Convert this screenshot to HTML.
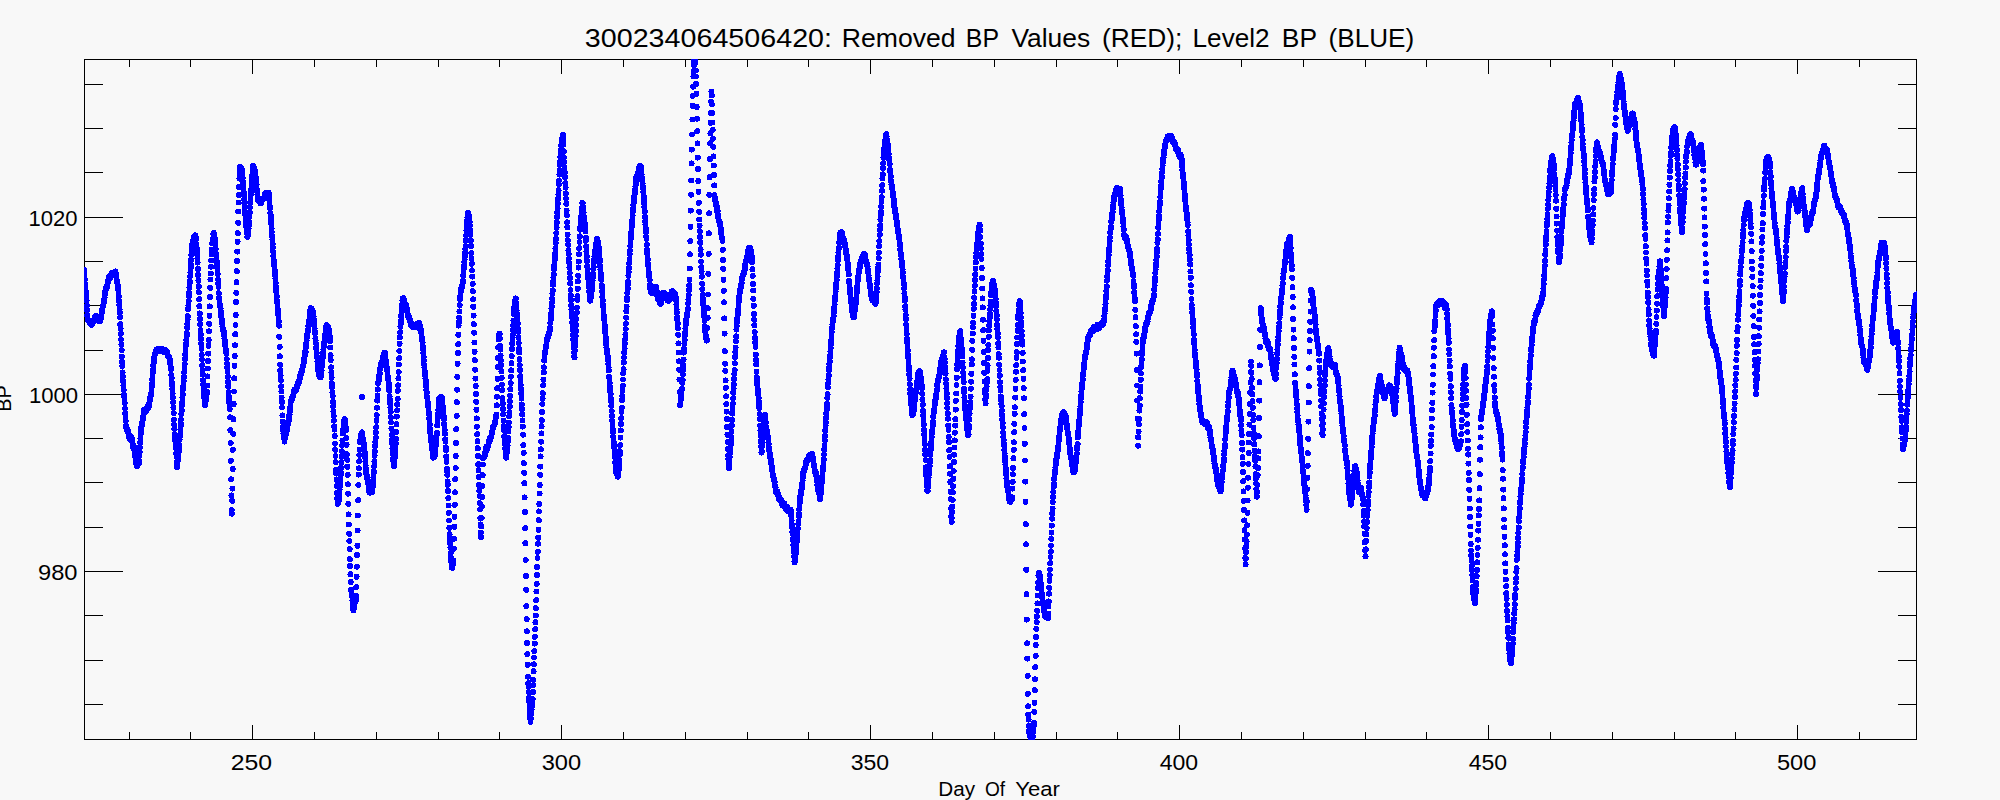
<!DOCTYPE html>
<html><head><meta charset="utf-8"><style>
html,body{margin:0;padding:0;background:#f8f8f8;}
svg{display:block;}
text{font-family:"Liberation Sans", sans-serif;fill:#000;}
</style></head><body>
<svg width="2000" height="800" viewBox="0 0 2000 800">
<rect width="2000" height="800" fill="#f8f8f8"/>
<g stroke="#000" stroke-width="1" shape-rendering="crispEdges">
<rect x="84.5" y="59.5" width="1832" height="680" fill="none" stroke="#000" stroke-width="1"/>
<line x1="129.5" y1="739" x2="129.5" y2="732"/>
<line x1="129.5" y1="60" x2="129.5" y2="67"/>
<line x1="190.5" y1="739" x2="190.5" y2="732"/>
<line x1="190.5" y1="60" x2="190.5" y2="67"/>
<line x1="252.5" y1="739" x2="252.5" y2="725"/>
<line x1="252.5" y1="60" x2="252.5" y2="74"/>
<line x1="314.5" y1="739" x2="314.5" y2="732"/>
<line x1="314.5" y1="60" x2="314.5" y2="67"/>
<line x1="376.5" y1="739" x2="376.5" y2="732"/>
<line x1="376.5" y1="60" x2="376.5" y2="67"/>
<line x1="438.5" y1="739" x2="438.5" y2="732"/>
<line x1="438.5" y1="60" x2="438.5" y2="67"/>
<line x1="499.5" y1="739" x2="499.5" y2="732"/>
<line x1="499.5" y1="60" x2="499.5" y2="67"/>
<line x1="561.5" y1="739" x2="561.5" y2="725"/>
<line x1="561.5" y1="60" x2="561.5" y2="74"/>
<line x1="623.5" y1="739" x2="623.5" y2="732"/>
<line x1="623.5" y1="60" x2="623.5" y2="67"/>
<line x1="685.5" y1="739" x2="685.5" y2="732"/>
<line x1="685.5" y1="60" x2="685.5" y2="67"/>
<line x1="747.5" y1="739" x2="747.5" y2="732"/>
<line x1="747.5" y1="60" x2="747.5" y2="67"/>
<line x1="808.5" y1="739" x2="808.5" y2="732"/>
<line x1="808.5" y1="60" x2="808.5" y2="67"/>
<line x1="870.5" y1="739" x2="870.5" y2="725"/>
<line x1="870.5" y1="60" x2="870.5" y2="74"/>
<line x1="932.5" y1="739" x2="932.5" y2="732"/>
<line x1="932.5" y1="60" x2="932.5" y2="67"/>
<line x1="994.5" y1="739" x2="994.5" y2="732"/>
<line x1="994.5" y1="60" x2="994.5" y2="67"/>
<line x1="1056.5" y1="739" x2="1056.5" y2="732"/>
<line x1="1056.5" y1="60" x2="1056.5" y2="67"/>
<line x1="1117.5" y1="739" x2="1117.5" y2="732"/>
<line x1="1117.5" y1="60" x2="1117.5" y2="67"/>
<line x1="1179.5" y1="739" x2="1179.5" y2="725"/>
<line x1="1179.5" y1="60" x2="1179.5" y2="74"/>
<line x1="1241.5" y1="739" x2="1241.5" y2="732"/>
<line x1="1241.5" y1="60" x2="1241.5" y2="67"/>
<line x1="1303.5" y1="739" x2="1303.5" y2="732"/>
<line x1="1303.5" y1="60" x2="1303.5" y2="67"/>
<line x1="1365.5" y1="739" x2="1365.5" y2="732"/>
<line x1="1365.5" y1="60" x2="1365.5" y2="67"/>
<line x1="1426.5" y1="739" x2="1426.5" y2="732"/>
<line x1="1426.5" y1="60" x2="1426.5" y2="67"/>
<line x1="1488.5" y1="739" x2="1488.5" y2="725"/>
<line x1="1488.5" y1="60" x2="1488.5" y2="74"/>
<line x1="1550.5" y1="739" x2="1550.5" y2="732"/>
<line x1="1550.5" y1="60" x2="1550.5" y2="67"/>
<line x1="1612.5" y1="739" x2="1612.5" y2="732"/>
<line x1="1612.5" y1="60" x2="1612.5" y2="67"/>
<line x1="1674.5" y1="739" x2="1674.5" y2="732"/>
<line x1="1674.5" y1="60" x2="1674.5" y2="67"/>
<line x1="1735.5" y1="739" x2="1735.5" y2="732"/>
<line x1="1735.5" y1="60" x2="1735.5" y2="67"/>
<line x1="1797.5" y1="739" x2="1797.5" y2="725"/>
<line x1="1797.5" y1="60" x2="1797.5" y2="74"/>
<line x1="1859.5" y1="739" x2="1859.5" y2="732"/>
<line x1="1859.5" y1="60" x2="1859.5" y2="67"/>
<line x1="85" y1="84.5" x2="103" y2="84.5"/>
<line x1="1916" y1="84.5" x2="1898" y2="84.5"/>
<line x1="85" y1="128.5" x2="103" y2="128.5"/>
<line x1="1916" y1="128.5" x2="1898" y2="128.5"/>
<line x1="85" y1="172.5" x2="103" y2="172.5"/>
<line x1="1916" y1="172.5" x2="1898" y2="172.5"/>
<line x1="85" y1="217.5" x2="123" y2="217.5"/>
<line x1="1916" y1="217.5" x2="1878" y2="217.5"/>
<line x1="85" y1="261.5" x2="103" y2="261.5"/>
<line x1="1916" y1="261.5" x2="1898" y2="261.5"/>
<line x1="85" y1="305.5" x2="103" y2="305.5"/>
<line x1="1916" y1="305.5" x2="1898" y2="305.5"/>
<line x1="85" y1="350.5" x2="103" y2="350.5"/>
<line x1="1916" y1="350.5" x2="1898" y2="350.5"/>
<line x1="85" y1="394.5" x2="123" y2="394.5"/>
<line x1="1916" y1="394.5" x2="1878" y2="394.5"/>
<line x1="85" y1="438.5" x2="103" y2="438.5"/>
<line x1="1916" y1="438.5" x2="1898" y2="438.5"/>
<line x1="85" y1="482.5" x2="103" y2="482.5"/>
<line x1="1916" y1="482.5" x2="1898" y2="482.5"/>
<line x1="85" y1="527.5" x2="103" y2="527.5"/>
<line x1="1916" y1="527.5" x2="1898" y2="527.5"/>
<line x1="85" y1="571.5" x2="123" y2="571.5"/>
<line x1="1916" y1="571.5" x2="1878" y2="571.5"/>
<line x1="85" y1="615.5" x2="103" y2="615.5"/>
<line x1="1916" y1="615.5" x2="1898" y2="615.5"/>
<line x1="85" y1="660.5" x2="103" y2="660.5"/>
<line x1="1916" y1="660.5" x2="1898" y2="660.5"/>
<line x1="85" y1="704.5" x2="103" y2="704.5"/>
<line x1="1916" y1="704.5" x2="1898" y2="704.5"/>
</g>
<defs><clipPath id="c"><rect x="84" y="59" width="1833" height="681"/></clipPath></defs>
<path clip-path="url(#c)" fill="none" stroke="#0000ff" stroke-width="6.0" stroke-linecap="round" shape-rendering="crispEdges" d="M84.0 270.2h0M84.3 274.2h0M84.5 277.4h0M84.8 279.7h0M85.0 284.0h0M85.3 286.4h0M85.5 288.4h0M85.8 291.5h0M86.1 294.0h0M86.3 296.8h0M86.6 300.3h0M86.8 305.6h0M87.1 310.0h0M87.3 315.5h0M87.6 318.8h0M87.9 320.2h0M88.1 320.4h0M88.4 320.5h0M88.6 320.2h0M88.9 320.4h0M89.2 320.5h0M89.4 320.5h0M89.7 321.9h0M89.9 322.5h0M90.2 320.9h0M90.4 322.0h0M90.7 323.6h0M91.0 323.8h0M91.2 324.3h0M91.5 324.2h0M91.7 324.9h0M92.0 322.4h0M92.2 322.2h0M92.5 323.2h0M92.8 322.2h0M93.0 322.3h0M93.3 321.1h0M93.5 320.3h0M93.8 321.2h0M94.0 320.8h0M94.3 319.5h0M94.6 319.0h0M94.8 318.3h0M95.1 316.8h0M95.3 316.8h0M95.6 316.5h0M95.9 316.3h0M96.1 316.1h0M96.4 317.1h0M96.6 317.9h0M96.9 318.3h0M97.1 318.4h0M97.4 320.1h0M97.7 319.8h0M97.9 320.7h0M98.2 319.4h0M98.4 320.4h0M98.7 319.6h0M98.9 318.8h0M99.2 319.5h0M99.5 320.3h0M99.7 321.2h0M100.0 321.3h0M100.2 320.7h0M100.5 320.7h0M100.7 319.2h0M101.0 318.2h0M101.3 316.9h0M101.5 313.6h0M101.8 312.8h0M102.0 311.6h0M102.3 308.9h0M102.6 307.1h0M102.8 306.8h0M103.1 305.4h0M103.3 304.9h0M103.6 303.1h0M103.8 301.2h0M104.1 300.5h0M104.4 298.5h0M104.6 297.2h0M104.9 294.7h0M105.1 291.7h0M105.4 290.5h0M105.6 290.5h0M105.9 289.5h0M106.2 288.0h0M106.4 287.9h0M106.7 287.6h0M106.9 286.9h0M107.2 286.2h0M107.4 284.6h0M107.7 282.9h0M108.0 281.1h0M108.2 280.7h0M108.5 277.7h0M108.7 278.3h0M109.0 277.9h0M109.3 276.9h0M109.5 278.0h0M109.8 277.5h0M110.0 278.4h0M110.3 277.5h0M110.5 277.5h0M110.8 277.0h0M111.1 275.5h0M111.3 274.1h0M111.6 273.1h0M111.8 274.6h0M112.1 273.3h0M112.3 273.1h0M112.6 274.0h0M112.9 274.3h0M113.1 275.4h0M113.4 275.2h0M113.6 275.2h0M113.9 274.6h0M114.1 274.9h0M114.4 273.4h0M114.7 273.8h0M114.9 273.9h0M115.2 271.9h0M115.4 271.4h0M115.7 273.7h0M116.0 275.4h0M116.2 275.2h0M116.5 277.2h0M116.7 280.2h0M117.0 281.0h0M117.2 282.5h0M117.5 283.8h0M117.8 285.4h0M118.0 286.1h0M118.3 289.8h0M118.5 293.1h0M118.8 296.6h0M119.0 301.0h0M119.3 304.9h0M119.6 309.6h0M119.8 312.9h0M120.1 317.2h0M120.3 324.3h0M120.6 328.7h0M120.8 333.9h0M121.1 339.5h0M121.4 344.3h0M121.6 350.1h0M121.9 356.5h0M122.1 361.9h0M122.4 366.1h0M122.6 372.4h0M122.9 376.5h0M123.2 381.0h0M123.4 385.5h0M123.7 389.9h0M123.9 395.0h0M124.2 396.8h0M124.5 401.0h0M124.7 403.2h0M125.0 408.4h0M125.2 413.1h0M125.5 416.8h0M125.7 421.1h0M126.0 426.0h0M126.3 427.5h0M126.5 428.5h0M126.8 429.9h0M127.0 429.3h0M127.3 429.2h0M127.5 429.8h0M127.8 430.5h0M128.1 431.4h0M128.3 432.5h0M128.6 434.0h0M128.8 434.5h0M129.1 437.3h0M129.3 437.2h0M129.6 437.3h0M129.9 438.6h0M130.1 438.9h0M130.4 438.2h0M130.6 437.7h0M130.9 437.0h0M131.2 439.4h0M131.4 438.6h0M131.7 438.1h0M131.9 439.3h0M132.2 441.4h0M132.4 442.2h0M132.7 444.8h0M133.0 445.7h0M133.2 447.6h0M133.5 448.2h0M133.7 446.7h0M134.0 449.1h0M134.2 449.1h0M134.5 452.0h0M134.8 453.0h0M135.0 455.0h0M135.3 456.2h0M135.5 460.0h0M135.8 462.1h0M136.0 461.8h0M136.3 464.1h0M136.6 464.5h0M136.8 465.9h0M137.1 465.4h0M137.3 466.2h0M137.6 463.7h0M137.9 463.6h0M138.1 463.9h0M138.4 463.1h0M138.6 463.3h0M138.9 462.9h0M139.1 460.9h0M139.4 456.0h0M139.7 452.0h0M139.9 447.5h0M140.2 442.7h0M140.4 438.3h0M140.7 433.7h0M140.9 430.2h0M141.2 427.7h0M141.5 426.8h0M141.7 425.6h0M142.0 424.6h0M142.2 423.0h0M142.5 422.6h0M142.7 419.8h0M143.0 418.0h0M143.3 416.5h0M143.5 414.4h0M143.8 412.0h0M144.0 409.6h0M144.3 410.9h0M144.6 411.0h0M144.8 410.4h0M145.1 412.0h0M145.3 411.3h0M145.6 410.9h0M145.8 411.3h0M146.1 410.5h0M146.4 409.9h0M146.6 407.9h0M146.9 409.3h0M147.1 407.3h0M147.4 406.6h0M147.6 407.9h0M147.9 407.6h0M148.2 407.9h0M148.4 407.0h0M148.7 406.4h0M148.9 405.6h0M149.2 403.7h0M149.4 403.0h0M149.7 400.7h0M150.0 398.9h0M150.2 398.0h0M150.5 397.2h0M150.7 396.0h0M151.0 395.0h0M151.3 393.2h0M151.5 389.0h0M151.8 386.5h0M152.0 383.9h0M152.3 379.5h0M152.5 376.6h0M152.8 372.6h0M153.1 369.5h0M153.3 365.6h0M153.6 363.3h0M153.8 361.7h0M154.1 358.1h0M154.3 359.6h0M154.6 355.6h0M154.9 353.8h0M155.1 353.6h0M155.4 352.9h0M155.6 351.3h0M155.9 352.1h0M156.1 351.4h0M156.4 349.9h0M156.7 349.6h0M156.9 349.8h0M157.2 349.1h0M157.4 350.2h0M157.7 350.5h0M158.0 350.4h0M158.2 350.3h0M158.5 351.1h0M158.7 350.4h0M159.0 351.1h0M159.2 350.0h0M159.5 349.8h0M159.8 349.0h0M160.0 349.0h0M160.3 348.5h0M160.5 349.8h0M160.8 351.0h0M161.0 350.4h0M161.3 350.6h0M161.6 351.1h0M161.8 350.8h0M162.1 350.3h0M162.3 350.4h0M162.6 349.7h0M162.8 350.4h0M163.1 349.4h0M163.4 349.7h0M163.6 350.6h0M163.9 350.5h0M164.1 352.2h0M164.4 351.6h0M164.6 352.0h0M164.9 352.4h0M165.2 352.4h0M165.4 351.3h0M165.7 351.6h0M165.9 350.2h0M166.2 352.1h0M166.5 351.5h0M166.7 351.8h0M167.0 352.5h0M167.2 353.9h0M167.5 355.0h0M167.7 355.3h0M168.0 356.0h0M168.3 356.7h0M168.5 356.5h0M168.8 357.3h0M169.0 357.3h0M169.3 357.6h0M169.5 359.1h0M169.8 359.5h0M170.1 362.5h0M170.3 364.0h0M170.6 366.4h0M170.8 368.9h0M171.1 369.3h0M171.3 374.9h0M171.6 377.9h0M171.9 382.5h0M172.1 384.9h0M172.4 389.0h0M172.6 393.2h0M172.9 397.5h0M173.2 402.2h0M173.4 407.3h0M173.7 413.2h0M173.9 419.7h0M174.2 424.8h0M174.4 429.0h0M174.7 434.2h0M175.0 436.9h0M175.2 440.0h0M175.5 442.2h0M175.7 445.9h0M176.0 448.0h0M176.2 453.2h0M176.5 457.1h0M176.8 462.5h0M177.0 466.9h0M177.3 464.3h0M177.5 462.9h0M177.8 460.8h0M178.0 459.1h0M178.3 456.2h0M178.6 452.4h0M178.8 450.8h0M179.1 448.1h0M179.3 445.1h0M179.6 439.2h0M179.9 436.5h0M180.1 434.4h0M180.4 429.5h0M180.6 426.0h0M180.9 423.3h0M181.1 419.5h0M181.4 414.1h0M181.7 410.4h0M181.9 405.7h0M182.2 402.3h0M182.4 397.4h0M182.7 394.3h0M182.9 389.7h0M183.2 386.9h0M183.5 383.6h0M183.7 380.9h0M184.0 376.9h0M184.2 372.1h0M184.5 368.7h0M184.7 364.2h0M185.0 359.2h0M185.3 354.7h0M185.5 350.6h0M185.8 345.8h0M186.0 343.4h0M186.3 340.0h0M186.6 336.0h0M186.8 333.1h0M187.1 327.8h0M187.3 324.0h0M187.6 319.4h0M187.8 316.1h0M188.1 309.0h0M188.4 305.4h0M188.6 301.0h0M188.9 296.2h0M189.1 292.6h0M189.4 287.5h0M189.6 283.1h0M189.9 281.2h0M190.2 276.2h0M190.4 272.6h0M190.7 267.7h0M190.9 264.4h0M191.2 260.0h0M191.4 255.1h0M191.7 252.2h0M192.0 248.0h0M192.2 244.6h0M192.5 241.6h0M192.7 240.9h0M193.0 241.2h0M193.3 240.6h0M193.5 239.6h0M193.8 239.5h0M194.0 237.4h0M194.3 236.5h0M194.5 236.2h0M194.8 236.6h0M195.1 235.4h0M195.3 237.1h0M195.6 236.7h0M195.8 237.3h0M196.1 239.0h0M196.3 244.1h0M196.6 247.9h0M196.9 251.1h0M197.1 254.7h0M197.4 258.3h0M197.6 262.6h0M197.9 269.1h0M198.1 274.9h0M198.4 280.4h0M198.7 286.3h0M198.9 292.2h0M199.2 299.1h0M199.4 306.2h0M199.7 313.4h0M199.9 318.9h0M200.2 324.1h0M200.5 330.0h0M200.7 334.4h0M201.0 338.7h0M201.2 343.8h0M201.5 348.9h0M201.8 355.0h0M202.0 359.4h0M202.3 365.2h0M202.5 370.6h0M202.8 374.6h0M203.0 380.3h0M203.3 384.4h0M203.6 387.9h0M203.8 392.4h0M204.1 395.7h0M204.3 398.1h0M204.6 400.8h0M204.8 404.0h0M205.1 405.4h0M205.4 402.8h0M205.6 401.8h0M205.9 399.2h0M206.1 398.5h0M206.4 396.7h0M206.6 394.1h0M206.9 391.6h0M207.2 385.5h0M207.4 376.4h0M207.7 368.5h0M207.9 361.0h0M208.2 353.6h0M208.5 345.9h0M208.7 340.0h0M209.0 331.3h0M209.2 323.9h0M209.5 315.8h0M209.7 306.4h0M210.0 297.1h0M210.3 287.8h0M210.5 279.5h0M210.8 273.5h0M211.0 266.7h0M211.3 260.5h0M211.5 254.4h0M211.8 249.5h0M212.1 243.4h0M212.3 243.3h0M212.6 241.5h0M212.8 238.7h0M213.1 238.6h0M213.3 234.0h0M213.6 232.9h0M213.9 233.4h0M214.1 235.6h0M214.4 235.4h0M214.6 237.6h0M214.9 239.2h0M215.2 241.9h0M215.4 244.8h0M215.7 248.9h0M215.9 253.8h0M216.2 255.1h0M216.4 258.3h0M216.7 261.4h0M217.0 264.6h0M217.2 267.5h0M217.5 271.4h0M217.7 274.1h0M218.0 279.5h0M218.2 283.6h0M218.5 286.8h0M218.8 293.1h0M219.0 297.7h0M219.3 298.5h0M219.5 301.3h0M219.8 304.2h0M220.0 304.5h0M220.3 306.2h0M220.6 308.8h0M220.8 311.7h0M221.1 314.1h0M221.3 317.0h0M221.6 319.1h0M221.9 320.5h0M222.1 323.7h0M222.4 326.4h0M222.6 327.6h0M222.9 328.9h0M223.1 329.4h0M223.4 331.1h0M223.7 331.2h0M223.9 333.7h0M224.2 335.2h0M224.4 338.3h0M224.7 340.5h0M224.9 342.2h0M225.2 345.5h0M225.5 348.6h0M225.7 349.2h0M226.0 351.4h0M226.2 352.8h0M226.5 353.8h0M226.7 359.2h0M227.0 363.5h0M227.3 367.6h0M227.5 372.0h0M227.8 376.8h0M228.0 382.1h0M228.3 386.6h0M228.6 392.3h0M228.8 396.4h0M229.1 399.9h0M229.3 402.4h0M229.6 406.0h0M229.8 409.0h0M230.1 417.4h0M230.4 430.2h0M230.6 443.0h0M230.9 460.8h0M231.1 479.4h0M231.4 495.4h0M231.6 510.0h0M231.9 513.7h0M232.2 500.8h0M232.4 488.6h0M232.7 469.0h0M232.9 449.8h0M233.2 433.7h0M233.4 419.2h0M233.7 404.0h0M234.0 391.5h0M234.2 378.4h0M234.5 365.9h0M234.7 356.0h0M235.0 345.3h0M235.3 334.3h0M235.5 325.0h0M235.8 315.0h0M236.0 302.2h0M236.3 292.9h0M236.5 282.2h0M236.8 271.1h0M237.1 260.9h0M237.3 251.6h0M237.6 241.8h0M237.8 233.2h0M238.1 222.8h0M238.3 211.5h0M238.6 202.5h0M238.9 195.0h0M239.1 187.1h0M239.4 178.6h0M239.6 173.6h0M239.9 169.9h0M240.1 167.0h0M240.4 167.4h0M240.7 167.5h0M240.9 168.9h0M241.2 171.3h0M241.4 169.7h0M241.7 170.9h0M241.9 170.0h0M242.2 173.1h0M242.5 176.2h0M242.7 178.2h0M243.0 181.6h0M243.2 184.7h0M243.5 187.9h0M243.8 192.4h0M244.0 195.6h0M244.3 199.4h0M244.5 203.5h0M244.8 207.5h0M245.0 212.0h0M245.3 215.0h0M245.6 220.1h0M245.8 222.9h0M246.1 224.5h0M246.3 226.3h0M246.6 229.6h0M246.8 229.8h0M247.1 233.3h0M247.4 236.8h0M247.6 236.4h0M247.9 234.9h0M248.1 232.9h0M248.4 231.1h0M248.6 228.3h0M248.9 225.8h0M249.2 221.7h0M249.4 216.5h0M249.7 212.6h0M249.9 207.2h0M250.2 202.7h0M250.5 198.6h0M250.7 194.8h0M251.0 191.3h0M251.2 189.3h0M251.5 185.8h0M251.7 182.1h0M252.0 178.4h0M252.3 175.3h0M252.5 172.1h0M252.8 169.0h0M253.0 166.0h0M253.3 167.0h0M253.5 168.5h0M253.8 167.1h0M254.1 168.8h0M254.3 167.9h0M254.6 169.9h0M254.8 171.0h0M255.1 171.8h0M255.3 174.5h0M255.6 177.1h0M255.9 177.8h0M256.1 180.7h0M256.4 182.8h0M256.6 184.7h0M256.9 189.4h0M257.2 192.0h0M257.4 194.3h0M257.7 198.3h0M257.9 200.4h0M258.2 200.3h0M258.4 200.7h0M258.7 199.3h0M259.0 200.0h0M259.2 199.0h0M259.5 200.3h0M259.7 199.9h0M260.0 202.2h0M260.2 202.2h0M260.5 203.5h0M260.8 202.5h0M261.0 202.8h0M261.3 202.9h0M261.5 199.8h0M261.8 199.9h0M262.0 200.3h0M262.3 199.4h0M262.6 199.4h0M262.8 198.6h0M263.1 199.3h0M263.3 198.7h0M263.6 198.5h0M263.9 198.3h0M264.1 198.7h0M264.4 198.0h0M264.6 197.0h0M264.9 194.2h0M265.1 194.2h0M265.4 194.3h0M265.7 194.2h0M265.9 193.5h0M266.2 193.3h0M266.4 192.6h0M266.7 195.3h0M266.9 193.5h0M267.2 195.4h0M267.5 195.5h0M267.7 194.5h0M268.0 193.7h0M268.2 193.8h0M268.5 192.8h0M268.7 193.7h0M269.0 193.9h0M269.3 197.8h0M269.5 201.9h0M269.8 206.1h0M270.0 208.6h0M270.3 213.0h0M270.6 215.1h0M270.8 217.9h0M271.1 221.0h0M271.3 224.0h0M271.6 228.5h0M271.8 232.0h0M272.1 236.0h0M272.4 239.4h0M272.6 243.9h0M272.9 247.8h0M273.1 251.6h0M273.4 256.1h0M273.6 259.3h0M273.9 261.5h0M274.2 265.2h0M274.4 266.4h0M274.7 269.9h0M274.9 272.4h0M275.2 275.5h0M275.4 278.4h0M275.7 283.2h0M276.0 286.7h0M276.2 291.0h0M276.5 294.1h0M276.7 296.7h0M277.0 300.5h0M277.2 302.9h0M277.5 306.6h0M277.8 309.7h0M278.0 311.9h0M278.3 314.4h0M278.5 317.8h0M278.8 321.7h0M279.1 325.7h0M279.3 336.8h0M279.6 346.9h0M279.8 356.4h0M280.1 364.8h0M280.3 370.6h0M280.6 375.2h0M280.9 380.3h0M281.1 386.3h0M281.4 391.3h0M281.6 397.7h0M281.9 401.9h0M282.1 407.5h0M282.4 415.4h0M282.7 421.7h0M282.9 426.8h0M283.2 430.1h0M283.4 433.4h0M283.7 434.6h0M283.9 437.4h0M284.2 438.3h0M284.5 441.6h0M284.7 438.9h0M285.0 438.2h0M285.2 437.7h0M285.5 435.2h0M285.8 434.6h0M286.0 432.4h0M286.3 431.7h0M286.5 430.4h0M286.8 430.8h0M287.0 428.7h0M287.3 428.2h0M287.6 425.1h0M287.8 424.4h0M288.1 423.3h0M288.3 422.3h0M288.6 421.0h0M288.8 418.2h0M289.1 416.5h0M289.4 414.6h0M289.6 414.6h0M289.9 411.6h0M290.1 408.9h0M290.4 406.7h0M290.6 402.6h0M290.9 400.7h0M291.2 400.8h0M291.4 399.7h0M291.7 399.1h0M291.9 398.1h0M292.2 398.8h0M292.5 399.1h0M292.7 396.7h0M293.0 396.6h0M293.2 395.1h0M293.5 394.2h0M293.7 392.5h0M294.0 391.1h0M294.3 389.9h0M294.5 389.9h0M294.8 389.4h0M295.0 389.7h0M295.3 390.0h0M295.5 390.5h0M295.8 389.7h0M296.1 389.5h0M296.3 389.7h0M296.6 388.1h0M296.8 387.0h0M297.1 386.6h0M297.3 385.0h0M297.6 384.0h0M297.9 383.4h0M298.1 382.2h0M298.4 383.0h0M298.6 383.4h0M298.9 382.6h0M299.2 380.8h0M299.4 381.0h0M299.7 379.2h0M299.9 378.3h0M300.2 376.9h0M300.4 374.6h0M300.7 374.8h0M301.0 373.0h0M301.2 372.7h0M301.5 372.1h0M301.7 372.1h0M302.0 371.5h0M302.2 369.3h0M302.5 369.2h0M302.8 366.6h0M303.0 366.1h0M303.3 365.2h0M303.5 363.7h0M303.8 362.5h0M304.0 360.2h0M304.3 358.6h0M304.6 356.7h0M304.8 355.8h0M305.1 354.4h0M305.3 351.4h0M305.6 351.9h0M305.9 347.3h0M306.1 344.6h0M306.4 342.7h0M306.6 340.3h0M306.9 337.7h0M307.1 334.9h0M307.4 334.3h0M307.7 331.8h0M307.9 331.3h0M308.2 329.6h0M308.4 326.2h0M308.7 324.4h0M308.9 322.1h0M309.2 320.2h0M309.5 317.3h0M309.7 314.5h0M310.0 311.0h0M310.2 310.5h0M310.5 310.3h0M310.7 308.2h0M311.0 308.7h0M311.3 308.9h0M311.5 308.6h0M311.8 309.7h0M312.0 311.7h0M312.3 311.9h0M312.6 311.9h0M312.8 311.0h0M313.1 313.4h0M313.3 314.4h0M313.6 316.3h0M313.8 319.1h0M314.1 322.0h0M314.4 326.7h0M314.6 328.7h0M314.9 331.7h0M315.1 333.5h0M315.4 338.6h0M315.6 340.5h0M315.9 343.3h0M316.2 347.1h0M316.4 349.0h0M316.7 353.1h0M316.9 356.6h0M317.2 357.6h0M317.4 361.3h0M317.7 363.2h0M318.0 366.9h0M318.2 370.0h0M318.5 370.9h0M318.7 374.8h0M319.0 375.2h0M319.2 374.9h0M319.5 375.6h0M319.8 376.4h0M320.0 375.7h0M320.3 377.4h0M320.5 377.2h0M320.8 376.9h0M321.1 374.5h0M321.3 372.2h0M321.6 370.8h0M321.8 366.9h0M322.1 364.6h0M322.3 362.9h0M322.6 358.5h0M322.9 356.3h0M323.1 352.8h0M323.4 349.7h0M323.6 347.7h0M323.9 345.9h0M324.1 343.8h0M324.4 341.9h0M324.7 340.0h0M324.9 337.5h0M325.2 336.0h0M325.4 333.5h0M325.7 330.9h0M325.9 326.6h0M326.2 327.1h0M326.5 326.1h0M326.7 325.1h0M327.0 326.0h0M327.2 326.7h0M327.5 326.7h0M327.8 326.8h0M328.0 326.8h0M328.3 328.6h0M328.5 329.6h0M328.8 329.7h0M329.0 331.8h0M329.3 334.0h0M329.6 335.2h0M329.8 337.9h0M330.1 341.4h0M330.3 347.5h0M330.6 355.2h0M330.8 360.0h0M331.1 367.4h0M331.4 372.6h0M331.6 377.7h0M331.9 383.2h0M332.1 387.0h0M332.4 392.5h0M332.6 396.1h0M332.9 401.9h0M333.2 406.3h0M333.4 411.4h0M333.7 416.2h0M333.9 420.6h0M334.2 426.4h0M334.5 429.6h0M334.7 436.0h0M335.0 443.6h0M335.2 449.9h0M335.5 456.0h0M335.7 462.2h0M336.0 470.1h0M336.3 473.6h0M336.5 479.8h0M336.8 485.7h0M337.0 493.0h0M337.3 498.6h0M337.5 503.8h0M337.8 503.3h0M338.1 501.9h0M338.3 500.6h0M338.6 499.6h0M338.8 500.7h0M339.1 498.1h0M339.3 494.0h0M339.6 489.8h0M339.9 486.6h0M340.1 483.2h0M340.4 479.9h0M340.6 475.1h0M340.9 472.7h0M341.2 467.7h0M341.4 462.5h0M341.7 456.7h0M341.9 451.3h0M342.2 445.3h0M342.4 440.5h0M342.7 433.5h0M343.0 429.6h0M343.2 429.3h0M343.5 426.1h0M343.7 425.0h0M344.0 423.7h0M344.2 420.6h0M344.5 419.1h0M344.8 419.3h0M345.0 420.5h0M345.3 422.4h0M345.5 424.1h0M345.8 427.2h0M346.0 430.3h0M346.3 438.0h0M346.6 444.7h0M346.8 454.2h0M347.1 459.8h0M347.3 466.7h0M347.6 474.9h0M347.9 484.3h0M348.1 493.7h0M348.4 503.9h0M348.6 514.4h0M348.9 524.5h0M349.1 533.8h0M349.4 541.0h0M349.7 549.2h0M349.9 559.2h0M350.2 566.0h0M350.4 574.3h0M350.7 582.0h0M350.9 589.7h0M351.2 590.7h0M351.5 592.6h0M351.7 594.2h0M352.0 596.0h0M352.2 596.8h0M352.5 600.5h0M352.7 601.4h0M353.0 605.8h0M353.3 608.4h0M353.5 610.5h0M353.8 608.4h0M354.0 608.5h0M354.3 605.9h0M354.5 604.2h0M354.8 602.9h0M355.1 601.7h0M355.3 601.4h0M355.6 601.1h0M355.8 598.9h0M356.1 596.0h0M356.4 587.1h0M356.6 576.8h0M356.9 566.7h0M357.1 555.0h0M357.4 545.7h0M357.6 530.5h0M357.9 515.5h0M358.2 500.3h0M358.4 485.0h0M358.7 474.6h0M358.9 468.4h0M359.2 461.2h0M359.4 455.0h0M359.7 449.6h0M360.0 442.2h0M360.2 440.3h0M360.5 438.2h0M360.7 437.7h0M361.0 436.5h0M361.2 434.3h0M361.5 433.3h0M361.8 433.6h0M362.0 432.4h0M362.3 434.2h0M362.5 435.8h0M362.8 438.2h0M363.1 440.3h0M363.3 442.9h0M363.6 443.0h0M363.8 445.5h0M364.1 445.3h0M364.3 448.3h0M364.6 451.9h0M364.9 454.4h0M365.1 457.4h0M365.4 461.5h0M365.6 465.7h0M365.9 468.2h0M366.1 471.8h0M366.4 473.8h0M366.7 475.2h0M366.9 477.2h0M367.2 477.6h0M367.4 478.8h0M367.7 480.3h0M367.9 482.2h0M368.2 483.5h0M368.5 486.6h0M368.7 487.4h0M369.0 491.0h0M369.2 490.5h0M369.5 491.4h0M369.8 491.9h0M370.0 492.8h0M370.3 491.7h0M370.5 490.5h0M370.8 491.2h0M371.0 490.1h0M371.3 489.9h0M371.6 491.0h0M371.8 491.5h0M372.1 491.9h0M372.3 488.7h0M372.6 486.9h0M372.8 484.3h0M373.1 481.1h0M373.4 477.6h0M373.6 473.8h0M373.9 471.3h0M374.1 466.4h0M374.4 461.3h0M374.6 455.7h0M374.9 451.2h0M375.2 446.0h0M375.4 442.1h0M375.7 437.8h0M375.9 432.5h0M376.2 427.3h0M376.5 420.8h0M376.7 415.1h0M377.0 407.8h0M377.2 400.6h0M377.5 395.8h0M377.7 389.6h0M378.0 383.6h0M378.3 383.1h0M378.5 381.5h0M378.8 380.2h0M379.0 378.2h0M379.3 376.7h0M379.5 374.5h0M379.8 373.1h0M380.1 369.3h0M380.3 368.1h0M380.6 366.9h0M380.8 364.4h0M381.1 363.6h0M381.3 365.3h0M381.6 362.5h0M381.9 363.4h0M382.1 362.0h0M382.4 361.2h0M382.6 359.5h0M382.9 358.9h0M383.2 358.6h0M383.4 355.8h0M383.7 355.7h0M383.9 354.5h0M384.2 354.7h0M384.4 352.7h0M384.7 353.4h0M385.0 353.0h0M385.2 354.6h0M385.5 356.4h0M385.7 360.6h0M386.0 361.0h0M386.2 363.3h0M386.5 365.8h0M386.8 367.8h0M387.0 368.5h0M387.3 370.8h0M387.5 372.8h0M387.8 376.1h0M388.0 379.4h0M388.3 379.3h0M388.6 383.3h0M388.8 383.1h0M389.1 387.4h0M389.3 390.8h0M389.6 396.6h0M389.9 399.5h0M390.1 403.0h0M390.4 407.4h0M390.6 412.0h0M390.9 417.3h0M391.1 422.5h0M391.4 428.7h0M391.7 434.9h0M391.9 439.8h0M392.2 443.8h0M392.4 448.4h0M392.7 453.6h0M392.9 459.2h0M393.2 460.6h0M393.5 462.1h0M393.7 464.6h0M394.0 466.0h0M394.2 463.6h0M394.5 461.6h0M394.7 458.1h0M395.0 454.8h0M395.3 451.7h0M395.5 447.4h0M395.8 443.3h0M396.0 438.8h0M396.3 432.0h0M396.5 424.3h0M396.8 416.6h0M397.1 410.4h0M397.3 404.5h0M397.6 398.9h0M397.8 390.8h0M398.1 385.3h0M398.4 378.3h0M398.6 372.0h0M398.9 364.5h0M399.1 358.2h0M399.4 351.0h0M399.6 343.8h0M399.9 337.5h0M400.2 332.1h0M400.4 326.4h0M400.7 323.9h0M400.9 320.9h0M401.2 316.5h0M401.4 314.5h0M401.7 310.3h0M402.0 306.7h0M402.2 304.4h0M402.5 300.5h0M402.7 298.7h0M403.0 299.9h0M403.2 298.2h0M403.5 298.3h0M403.8 299.8h0M404.0 300.2h0M404.3 301.4h0M404.5 302.7h0M404.8 303.9h0M405.1 304.4h0M405.3 304.8h0M405.6 304.0h0M405.8 304.6h0M406.1 306.1h0M406.3 305.9h0M406.6 307.6h0M406.9 309.4h0M407.1 310.0h0M407.4 312.0h0M407.6 314.6h0M407.9 315.1h0M408.1 316.8h0M408.4 317.4h0M408.7 317.5h0M408.9 317.4h0M409.2 317.2h0M409.4 317.4h0M409.7 318.9h0M409.9 319.8h0M410.2 320.6h0M410.5 322.5h0M410.7 322.9h0M411.0 325.0h0M411.2 325.2h0M411.5 325.7h0M411.8 325.9h0M412.0 326.0h0M412.3 326.9h0M412.5 324.0h0M412.8 324.9h0M413.0 325.7h0M413.3 325.7h0M413.6 325.7h0M413.8 327.5h0M414.1 326.3h0M414.3 326.4h0M414.6 327.5h0M414.8 325.9h0M415.1 324.9h0M415.4 326.2h0M415.6 325.6h0M415.9 325.3h0M416.1 324.4h0M416.4 324.9h0M416.6 324.6h0M416.9 326.6h0M417.2 326.4h0M417.4 326.6h0M417.7 324.9h0M417.9 326.2h0M418.2 326.0h0M418.5 325.0h0M418.7 324.0h0M419.0 323.0h0M419.2 323.3h0M419.5 324.8h0M419.7 325.8h0M420.0 327.1h0M420.3 328.1h0M420.5 330.5h0M420.8 329.8h0M421.0 331.3h0M421.3 333.0h0M421.5 335.7h0M421.8 337.7h0M422.1 339.4h0M422.3 341.1h0M422.6 342.2h0M422.8 346.9h0M423.1 349.2h0M423.3 352.9h0M423.6 357.0h0M423.9 360.6h0M424.1 364.6h0M424.4 367.7h0M424.6 370.3h0M424.9 371.9h0M425.2 375.8h0M425.4 378.3h0M425.7 380.8h0M425.9 383.1h0M426.2 386.5h0M426.4 390.0h0M426.7 392.3h0M427.0 396.5h0M427.2 397.1h0M427.5 400.0h0M427.7 402.4h0M428.0 403.5h0M428.2 406.3h0M428.5 409.8h0M428.8 412.1h0M429.0 414.1h0M429.3 418.7h0M429.5 421.6h0M429.8 424.9h0M430.0 429.1h0M430.3 432.4h0M430.6 436.1h0M430.8 437.7h0M431.1 441.6h0M431.3 442.1h0M431.6 444.5h0M431.8 444.7h0M432.1 447.4h0M432.4 450.0h0M432.6 453.1h0M432.9 454.4h0M433.1 457.6h0M433.4 457.2h0M433.7 456.6h0M433.9 457.3h0M434.2 456.1h0M434.4 456.0h0M434.7 456.0h0M434.9 454.5h0M435.2 451.0h0M435.5 448.0h0M435.7 445.7h0M436.0 442.9h0M436.2 439.6h0M436.5 436.9h0M436.7 434.8h0M437.0 432.5h0M437.3 425.3h0M437.5 422.9h0M437.8 417.9h0M438.0 414.1h0M438.3 410.0h0M438.5 405.6h0M438.8 401.4h0M439.1 398.7h0M439.3 398.5h0M439.6 400.3h0M439.8 399.3h0M440.1 398.7h0M440.4 398.1h0M440.6 396.9h0M440.9 397.8h0M441.1 398.4h0M441.4 398.4h0M441.6 397.1h0M441.9 399.6h0M442.2 400.5h0M442.4 403.0h0M442.7 406.5h0M442.9 409.7h0M443.2 413.1h0M443.4 414.9h0M443.7 416.8h0M444.0 419.6h0M444.2 424.0h0M444.5 425.8h0M444.7 430.1h0M445.0 433.8h0M445.2 439.5h0M445.5 441.2h0M445.8 447.4h0M446.0 450.5h0M446.3 456.4h0M446.5 461.9h0M446.8 468.7h0M447.1 471.0h0M447.3 474.9h0M447.6 481.4h0M447.8 484.9h0M448.1 490.9h0M448.3 498.1h0M448.6 505.5h0M448.9 512.8h0M449.1 520.5h0M449.4 527.9h0M449.6 534.3h0M449.9 538.5h0M450.1 543.1h0M450.4 547.5h0M450.7 553.0h0M450.9 557.3h0M451.2 560.5h0M451.4 562.7h0M451.7 565.8h0M451.9 567.5h0M452.2 567.8h0M452.5 565.7h0M452.7 564.7h0M453.0 563.7h0M453.2 561.5h0M453.5 560.8h0M453.8 548.8h0M454.0 538.8h0M454.3 526.7h0M454.5 516.9h0M454.8 504.8h0M455.0 492.4h0M455.3 479.2h0M455.6 468.0h0M455.8 456.0h0M456.1 443.1h0M456.3 429.2h0M456.6 415.9h0M456.8 402.1h0M457.1 389.7h0M457.4 376.9h0M457.6 363.8h0M457.9 352.9h0M458.1 344.2h0M458.4 334.8h0M458.6 325.6h0M458.9 322.1h0M459.2 317.9h0M459.4 311.4h0M459.7 305.2h0M459.9 298.9h0M460.2 296.2h0M460.5 293.0h0M460.7 291.3h0M461.0 290.6h0M461.2 288.8h0M461.5 288.4h0M461.7 286.3h0M462.0 286.9h0M462.3 285.9h0M462.5 284.0h0M462.8 282.3h0M463.0 281.1h0M463.3 275.6h0M463.5 272.0h0M463.8 268.3h0M464.1 265.3h0M464.3 261.9h0M464.6 259.8h0M464.8 256.7h0M465.1 253.1h0M465.3 248.9h0M465.6 246.0h0M465.9 240.5h0M466.1 235.4h0M466.4 230.3h0M466.6 226.1h0M466.9 223.6h0M467.2 220.6h0M467.4 217.4h0M467.7 215.1h0M467.9 212.9h0M468.2 213.2h0M468.4 216.2h0M468.7 215.9h0M469.0 216.1h0M469.2 217.4h0M469.5 217.8h0M469.7 222.0h0M470.0 225.4h0M470.2 230.6h0M470.5 235.0h0M470.8 240.4h0M471.0 246.2h0M471.3 253.2h0M471.5 258.9h0M471.8 263.8h0M472.0 270.4h0M472.3 276.6h0M472.6 283.9h0M472.8 291.1h0M473.1 299.4h0M473.3 306.7h0M473.6 315.6h0M473.8 324.3h0M474.1 332.6h0M474.4 342.5h0M474.6 351.8h0M474.9 360.2h0M475.1 369.7h0M475.4 378.6h0M475.7 386.0h0M475.9 394.0h0M476.2 401.8h0M476.4 409.7h0M476.7 418.4h0M476.9 426.6h0M477.2 434.2h0M477.5 441.3h0M477.7 448.3h0M478.0 456.1h0M478.2 464.1h0M478.5 470.2h0M478.7 477.1h0M479.0 484.9h0M479.3 490.9h0M479.5 496.1h0M479.8 503.3h0M480.0 509.4h0M480.3 518.1h0M480.5 524.4h0M480.8 532.6h0M481.1 536.9h0M481.3 526.3h0M481.6 518.0h0M481.8 506.8h0M482.1 497.1h0M482.4 485.9h0M482.6 475.1h0M482.9 464.5h0M483.1 458.4h0M483.4 457.0h0M483.6 457.6h0M483.9 457.1h0M484.2 457.2h0M484.4 456.9h0M484.7 454.8h0M484.9 455.5h0M485.2 454.4h0M485.4 452.0h0M485.7 451.4h0M486.0 450.3h0M486.2 448.0h0M486.5 446.8h0M486.7 447.0h0M487.0 448.7h0M487.2 447.1h0M487.5 446.1h0M487.8 446.5h0M488.0 445.6h0M488.3 445.1h0M488.5 444.4h0M488.8 441.6h0M489.1 442.1h0M489.3 441.6h0M489.6 439.8h0M489.8 439.1h0M490.1 439.6h0M490.3 437.8h0M490.6 437.4h0M490.9 436.9h0M491.1 436.9h0M491.4 436.2h0M491.6 434.7h0M491.9 433.6h0M492.1 432.2h0M492.4 430.5h0M492.7 428.4h0M492.9 427.7h0M493.2 427.9h0M493.4 426.1h0M493.7 426.2h0M493.9 425.7h0M494.2 425.2h0M494.5 423.9h0M494.7 422.6h0M495.0 423.6h0M495.2 421.1h0M495.5 418.6h0M495.8 417.6h0M496.0 417.0h0M496.3 415.6h0M496.5 414.8h0M496.8 405.4h0M497.0 396.8h0M497.3 388.2h0M497.6 378.7h0M497.8 367.1h0M498.1 358.0h0M498.3 347.3h0M498.6 339.4h0M498.8 336.5h0M499.1 335.4h0M499.4 333.8h0M499.6 334.1h0M499.9 338.8h0M500.1 345.5h0M500.4 349.6h0M500.6 355.6h0M500.9 360.8h0M501.2 364.9h0M501.4 371.3h0M501.7 377.9h0M501.9 384.7h0M502.2 390.1h0M502.5 398.2h0M502.7 403.7h0M503.0 409.1h0M503.2 414.1h0M503.5 420.7h0M503.7 426.3h0M504.0 430.4h0M504.3 436.2h0M504.5 438.2h0M504.8 441.9h0M505.0 444.6h0M505.3 448.6h0M505.5 452.7h0M505.8 455.4h0M506.1 457.6h0M506.3 456.3h0M506.6 453.8h0M506.8 452.1h0M507.1 450.2h0M507.3 447.7h0M507.6 445.6h0M507.9 441.2h0M508.1 437.6h0M508.4 431.4h0M508.6 427.0h0M508.9 422.5h0M509.1 416.2h0M509.4 412.3h0M509.7 406.5h0M509.9 401.2h0M510.2 395.8h0M510.4 389.3h0M510.7 383.1h0M511.0 376.6h0M511.2 370.4h0M511.5 363.2h0M511.7 356.1h0M512.0 348.9h0M512.2 343.6h0M512.5 339.3h0M512.8 334.8h0M513.0 330.3h0M513.3 325.7h0M513.5 320.5h0M513.8 314.2h0M514.0 309.8h0M514.3 307.7h0M514.6 306.9h0M514.8 303.3h0M515.1 301.9h0M515.3 300.6h0M515.6 298.4h0M515.8 298.6h0M516.1 302.5h0M516.4 305.8h0M516.6 310.3h0M516.9 314.1h0M517.1 316.8h0M517.4 319.7h0M517.7 323.4h0M517.9 328.8h0M518.2 331.9h0M518.4 337.4h0M518.7 343.0h0M518.9 348.9h0M519.2 352.5h0M519.5 359.3h0M519.7 365.1h0M520.0 370.0h0M520.2 376.2h0M520.5 380.6h0M520.7 384.9h0M521.0 388.7h0M521.3 393.5h0M521.5 398.6h0M521.8 404.6h0M522.0 409.1h0M522.3 414.3h0M522.5 420.4h0M522.8 426.6h0M523.1 434.6h0M523.3 445.1h0M523.6 452.9h0M523.8 463.2h0M524.1 472.8h0M524.4 483.2h0M524.6 497.4h0M524.9 512.1h0M525.1 528.2h0M525.4 543.2h0M525.6 560.0h0M525.9 576.0h0M526.2 589.8h0M526.4 606.1h0M526.7 619.2h0M526.9 631.4h0M527.2 643.0h0M527.4 654.1h0M527.7 664.7h0M528.0 676.7h0M528.2 683.3h0M528.5 686.8h0M528.7 692.1h0M529.0 697.9h0M529.2 701.9h0M529.5 705.6h0M529.8 710.6h0M530.0 715.2h0M530.3 718.5h0M530.5 722.1h0M530.8 718.7h0M531.1 714.4h0M531.3 711.6h0M531.6 709.3h0M531.8 706.2h0M532.1 704.9h0M532.3 702.3h0M532.6 699.1h0M532.9 692.0h0M533.1 685.2h0M533.4 679.9h0M533.6 671.3h0M533.9 664.4h0M534.1 657.5h0M534.4 651.1h0M534.7 643.6h0M534.9 636.8h0M535.2 629.2h0M535.4 622.3h0M535.7 615.5h0M535.9 608.2h0M536.2 600.3h0M536.5 591.5h0M536.7 583.9h0M537.0 575.2h0M537.2 567.0h0M537.5 558.0h0M537.8 551.7h0M538.0 543.8h0M538.3 537.7h0M538.5 529.8h0M538.8 520.2h0M539.0 511.4h0M539.3 504.0h0M539.6 493.5h0M539.8 485.0h0M540.1 474.8h0M540.3 466.6h0M540.6 456.4h0M540.8 449.4h0M541.1 441.7h0M541.4 433.4h0M541.6 426.3h0M541.9 420.2h0M542.1 412.1h0M542.4 404.0h0M542.6 398.5h0M542.9 393.2h0M543.2 385.3h0M543.4 379.7h0M543.7 372.5h0M543.9 367.4h0M544.2 360.6h0M544.5 356.1h0M544.7 353.8h0M545.0 352.4h0M545.2 351.7h0M545.5 350.0h0M545.7 348.1h0M546.0 346.3h0M546.3 344.9h0M546.5 342.1h0M546.8 340.9h0M547.0 339.2h0M547.3 338.2h0M547.5 336.9h0M547.8 336.9h0M548.1 336.6h0M548.3 337.1h0M548.6 335.4h0M548.8 334.9h0M549.1 334.0h0M549.3 332.8h0M549.6 331.0h0M549.9 329.6h0M550.1 327.9h0M550.4 322.8h0M550.6 320.0h0M550.9 317.1h0M551.1 313.4h0M551.4 308.3h0M551.7 306.4h0M551.9 302.7h0M552.2 298.8h0M552.4 293.3h0M552.7 290.4h0M553.0 284.8h0M553.2 281.8h0M553.5 277.5h0M553.7 274.5h0M554.0 269.1h0M554.2 265.1h0M554.5 263.3h0M554.8 259.9h0M555.0 255.7h0M555.3 253.0h0M555.5 248.5h0M555.8 243.0h0M556.0 238.9h0M556.3 233.1h0M556.6 227.7h0M556.8 222.6h0M557.1 217.0h0M557.3 212.6h0M557.6 208.5h0M557.8 203.5h0M558.1 199.0h0M558.4 194.7h0M558.6 190.2h0M558.9 184.3h0M559.1 180.5h0M559.4 174.6h0M559.7 170.3h0M559.9 164.6h0M560.2 161.6h0M560.4 157.2h0M560.7 152.5h0M560.9 149.7h0M561.2 145.4h0M561.5 143.0h0M561.7 140.9h0M562.0 139.2h0M562.2 138.7h0M562.5 137.3h0M562.7 136.7h0M563.0 135.2h0M563.3 140.2h0M563.5 144.4h0M563.8 151.1h0M564.0 157.4h0M564.3 162.2h0M564.5 167.2h0M564.8 172.6h0M565.1 177.0h0M565.3 183.1h0M565.6 187.5h0M565.8 193.4h0M566.1 198.5h0M566.4 203.8h0M566.6 210.5h0M566.9 215.4h0M567.1 222.3h0M567.4 227.2h0M567.6 234.8h0M567.9 240.3h0M568.2 244.8h0M568.4 250.3h0M568.7 254.2h0M568.9 258.7h0M569.2 262.7h0M569.4 267.3h0M569.7 273.0h0M570.0 277.9h0M570.2 283.6h0M570.5 290.1h0M570.7 295.3h0M571.0 300.0h0M571.2 305.4h0M571.5 309.5h0M571.8 313.8h0M572.0 317.3h0M572.3 322.6h0M572.5 327.1h0M572.8 329.6h0M573.1 335.1h0M573.3 339.2h0M573.6 342.5h0M573.8 347.6h0M574.1 352.7h0M574.3 356.4h0M574.6 357.4h0M574.9 350.8h0M575.1 345.8h0M575.4 341.2h0M575.6 336.1h0M575.9 331.0h0M576.1 325.0h0M576.4 318.9h0M576.7 312.8h0M576.9 307.6h0M577.2 299.8h0M577.4 296.3h0M577.7 288.7h0M577.9 281.5h0M578.2 275.8h0M578.5 267.6h0M578.7 261.6h0M579.0 254.3h0M579.2 248.3h0M579.5 242.1h0M579.8 236.4h0M580.0 229.6h0M580.3 227.5h0M580.5 225.3h0M580.8 221.9h0M581.0 220.3h0M581.3 216.8h0M581.6 212.6h0M581.8 210.8h0M582.1 207.6h0M582.3 202.9h0M582.6 203.0h0M582.8 206.0h0M583.1 208.5h0M583.4 210.3h0M583.6 212.8h0M583.9 216.2h0M584.1 218.3h0M584.4 220.6h0M584.6 222.3h0M584.9 224.3h0M585.2 226.9h0M585.4 231.4h0M585.7 237.8h0M585.9 240.8h0M586.2 246.4h0M586.4 251.3h0M586.7 256.5h0M587.0 260.9h0M587.2 266.5h0M587.5 270.7h0M587.7 274.0h0M588.0 277.3h0M588.3 278.7h0M588.5 281.6h0M588.8 283.4h0M589.0 287.3h0M589.3 291.6h0M589.5 294.3h0M589.8 297.6h0M590.1 300.7h0M590.3 299.5h0M590.6 298.2h0M590.8 296.5h0M591.1 296.1h0M591.3 292.5h0M591.6 291.0h0M591.9 289.2h0M592.1 287.8h0M592.4 283.3h0M592.6 280.8h0M592.9 276.9h0M593.1 273.5h0M593.4 269.1h0M593.7 267.0h0M593.9 262.5h0M594.2 259.5h0M594.4 256.6h0M594.7 253.8h0M595.0 250.9h0M595.2 250.1h0M595.5 247.8h0M595.7 245.9h0M596.0 244.3h0M596.2 243.4h0M596.5 241.7h0M596.8 241.0h0M597.0 238.7h0M597.3 239.2h0M597.5 240.0h0M597.8 241.6h0M598.0 242.4h0M598.3 244.4h0M598.6 246.2h0M598.8 248.3h0M599.1 250.9h0M599.3 254.6h0M599.6 259.0h0M599.8 261.9h0M600.1 265.9h0M600.4 269.6h0M600.6 272.3h0M600.9 274.2h0M601.1 277.1h0M601.4 279.9h0M601.7 285.3h0M601.9 286.9h0M602.2 291.6h0M602.4 296.8h0M602.7 300.3h0M602.9 304.4h0M603.2 306.9h0M603.5 311.0h0M603.7 315.4h0M604.0 316.4h0M604.2 319.5h0M604.5 322.1h0M604.7 325.4h0M605.0 329.1h0M605.3 332.6h0M605.5 334.4h0M605.8 337.2h0M606.0 341.2h0M606.3 344.2h0M606.5 347.5h0M606.8 349.4h0M607.1 350.7h0M607.3 353.4h0M607.6 355.7h0M607.8 357.4h0M608.1 359.9h0M608.4 364.1h0M608.6 367.4h0M608.9 370.5h0M609.1 376.5h0M609.4 378.7h0M609.6 382.9h0M609.9 386.2h0M610.2 389.2h0M610.4 392.1h0M610.7 394.2h0M610.9 398.4h0M611.2 401.8h0M611.4 406.0h0M611.7 411.1h0M612.0 415.8h0M612.2 420.7h0M612.5 425.6h0M612.7 429.2h0M613.0 432.1h0M613.2 436.9h0M613.5 440.4h0M613.8 442.9h0M614.0 445.1h0M614.3 447.7h0M614.5 451.7h0M614.8 455.2h0M615.1 457.5h0M615.3 462.2h0M615.6 465.4h0M615.8 468.8h0M616.1 472.0h0M616.3 472.5h0M616.6 472.9h0M616.9 473.9h0M617.1 473.2h0M617.4 474.8h0M617.6 475.9h0M617.9 476.6h0M618.1 476.4h0M618.4 473.3h0M618.7 469.6h0M618.9 466.6h0M619.2 463.6h0M619.4 460.0h0M619.7 454.8h0M619.9 451.2h0M620.2 445.1h0M620.5 437.6h0M620.7 430.4h0M621.0 424.0h0M621.2 418.1h0M621.5 411.7h0M621.8 407.7h0M622.0 400.3h0M622.3 396.0h0M622.5 390.8h0M622.8 385.7h0M623.0 379.5h0M623.3 373.2h0M623.6 369.2h0M623.8 362.6h0M624.1 357.5h0M624.3 352.6h0M624.6 348.5h0M624.8 343.6h0M625.1 339.3h0M625.4 334.4h0M625.6 329.0h0M625.9 323.8h0M626.1 317.6h0M626.4 311.2h0M626.6 306.5h0M626.9 300.3h0M627.2 297.7h0M627.4 292.8h0M627.7 288.6h0M627.9 283.9h0M628.2 281.7h0M628.4 275.7h0M628.7 272.0h0M629.0 267.9h0M629.2 263.3h0M629.5 259.1h0M629.7 254.2h0M630.0 250.4h0M630.3 246.1h0M630.5 242.7h0M630.8 239.0h0M631.0 235.7h0M631.3 232.6h0M631.5 229.2h0M631.8 226.6h0M632.1 223.5h0M632.3 220.6h0M632.6 215.3h0M632.8 211.5h0M633.1 208.7h0M633.3 204.9h0M633.6 203.0h0M633.9 200.1h0M634.1 197.7h0M634.4 195.3h0M634.6 194.1h0M634.9 191.6h0M635.1 189.3h0M635.4 186.7h0M635.7 184.3h0M635.9 181.1h0M636.2 178.0h0M636.4 177.4h0M636.7 176.5h0M637.0 175.9h0M637.2 175.1h0M637.5 174.3h0M637.7 173.1h0M638.0 172.9h0M638.2 173.3h0M638.5 171.5h0M638.8 171.4h0M639.0 170.1h0M639.3 167.1h0M639.5 166.6h0M639.8 165.9h0M640.0 167.0h0M640.3 166.5h0M640.6 166.1h0M640.8 167.2h0M641.1 167.8h0M641.3 171.6h0M641.6 174.8h0M641.8 177.5h0M642.1 180.1h0M642.4 181.6h0M642.6 183.3h0M642.9 186.5h0M643.1 188.8h0M643.4 191.8h0M643.7 196.6h0M643.9 199.4h0M644.2 203.0h0M644.4 207.0h0M644.7 211.7h0M644.9 217.1h0M645.2 221.5h0M645.5 224.5h0M645.7 228.5h0M646.0 232.3h0M646.2 236.7h0M646.5 239.1h0M646.7 244.8h0M647.0 249.7h0M647.3 253.8h0M647.5 257.2h0M647.8 259.9h0M648.0 263.6h0M648.3 266.1h0M648.5 269.9h0M648.8 272.5h0M649.1 275.2h0M649.3 277.1h0M649.6 279.9h0M649.8 284.8h0M650.1 286.6h0M650.4 288.9h0M650.6 289.5h0M650.9 289.6h0M651.1 292.0h0M651.4 293.0h0M651.6 292.5h0M651.9 291.9h0M652.2 292.7h0M652.4 291.1h0M652.7 290.4h0M652.9 287.9h0M653.2 289.4h0M653.4 287.3h0M653.7 288.4h0M654.0 289.3h0M654.2 288.0h0M654.5 288.1h0M654.7 288.7h0M655.0 289.6h0M655.2 289.0h0M655.5 287.0h0M655.8 287.6h0M656.0 287.2h0M656.3 288.5h0M656.5 290.2h0M656.8 291.4h0M657.1 294.2h0M657.3 296.1h0M657.6 298.6h0M657.8 298.8h0M658.1 297.5h0M658.3 298.5h0M658.6 299.6h0M658.9 299.7h0M659.1 299.1h0M659.4 300.9h0M659.6 301.8h0M659.9 303.3h0M660.1 303.6h0M660.4 303.7h0M660.7 303.4h0M660.9 301.9h0M661.2 299.6h0M661.4 298.2h0M661.7 296.7h0M661.9 295.5h0M662.2 294.3h0M662.5 293.7h0M662.7 293.0h0M663.0 294.0h0M663.2 294.0h0M663.5 294.2h0M663.7 293.5h0M664.0 293.5h0M664.3 293.2h0M664.5 293.4h0M664.8 293.8h0M665.0 294.5h0M665.3 294.2h0M665.6 294.0h0M665.8 295.4h0M666.1 296.6h0M666.3 297.3h0M666.6 297.8h0M666.8 299.2h0M667.1 299.5h0M667.4 300.0h0M667.6 300.3h0M667.9 300.6h0M668.1 300.8h0M668.4 299.8h0M668.6 298.6h0M668.9 297.7h0M669.2 297.7h0M669.4 297.9h0M669.7 299.1h0M669.9 297.1h0M670.2 298.6h0M670.4 296.7h0M670.7 296.9h0M671.0 296.5h0M671.2 293.8h0M671.5 291.6h0M671.7 292.6h0M672.0 291.7h0M672.3 291.2h0M672.5 292.0h0M672.8 291.3h0M673.0 293.1h0M673.3 293.9h0M673.5 293.6h0M673.8 293.3h0M674.1 293.8h0M674.3 293.9h0M674.6 293.0h0M674.8 294.5h0M675.1 294.6h0M675.3 295.0h0M675.6 296.7h0M675.9 297.7h0M676.1 300.5h0M676.4 304.4h0M676.6 309.7h0M676.9 312.8h0M677.1 317.3h0M677.4 320.0h0M677.7 323.5h0M677.9 328.4h0M678.2 334.9h0M678.4 343.4h0M678.7 352.5h0M679.0 361.3h0M679.2 369.7h0M679.5 379.5h0M679.7 392.2h0M680.0 405.0h0M680.2 404.2h0M680.5 401.8h0M680.8 399.1h0M681.0 396.8h0M681.3 394.7h0M681.5 393.6h0M681.8 390.0h0M682.0 388.6h0M682.3 382.8h0M682.6 380.0h0M682.8 374.3h0M683.1 369.7h0M683.3 365.3h0M683.6 359.7h0M683.8 352.6h0M684.1 348.6h0M684.4 343.7h0M684.6 340.0h0M684.9 335.7h0M685.1 332.4h0M685.4 328.7h0M685.7 325.2h0M685.9 322.7h0M686.2 319.3h0M686.4 318.8h0M686.7 317.1h0M686.9 315.9h0M687.2 313.9h0M687.5 312.1h0M687.7 310.2h0M688.0 308.7h0M688.2 303.3h0M688.5 299.5h0M688.7 295.1h0M689.0 290.0h0M689.3 285.3h0M689.5 279.9h0M689.8 268.5h0M690.0 254.4h0M690.3 241.1h0M690.5 226.7h0M690.8 210.6h0M691.1 194.6h0M691.3 180.5h0M691.6 163.4h0M691.8 149.6h0M692.1 134.5h0M692.4 119.5h0M692.6 105.8h0M692.9 95.8h0M693.1 86.6h0M693.4 76.4h0M693.6 71.3h0M693.9 65.0h0M694.2 61.4h0M694.4 59.7h0M694.7 57.0h0M694.9 57.9h0M695.2 61.0h0M695.4 62.3h0M695.7 70.5h0M696.0 76.5h0M696.2 83.8h0M696.5 93.9h0M696.7 107.0h0M697.0 118.7h0M697.2 131.3h0M697.5 143.4h0M697.8 157.6h0M698.0 168.9h0M698.3 181.0h0M698.5 191.8h0M698.8 202.7h0M699.1 211.8h0M699.3 219.5h0M699.6 225.7h0M699.8 231.2h0M700.1 237.1h0M700.3 242.7h0M700.6 249.2h0M700.9 254.7h0M701.1 261.5h0M701.4 267.0h0M701.6 271.7h0M701.9 276.7h0M702.1 283.8h0M702.4 289.1h0M702.7 295.0h0M702.9 299.1h0M703.2 302.5h0M703.4 305.2h0M703.7 309.4h0M703.9 312.7h0M704.2 316.3h0M704.5 321.0h0M704.7 326.1h0M705.0 330.0h0M705.2 331.6h0M705.5 334.3h0M705.7 335.0h0M706.0 336.0h0M706.3 338.3h0M706.5 338.6h0M706.8 340.6h0M707.0 339.5h0M707.3 327.9h0M707.6 317.9h0M707.8 308.2h0M708.1 294.5h0M708.3 273.9h0M708.6 253.9h0M708.8 233.4h0M709.1 213.4h0M709.4 194.9h0M709.6 177.3h0M709.9 159.1h0M710.1 143.4h0M710.4 133.3h0M710.6 122.8h0M710.9 112.9h0M711.2 101.7h0M711.4 91.6h0M711.7 95.3h0M711.9 104.3h0M712.2 113.3h0M712.4 122.5h0M712.7 129.9h0M713.0 138.6h0M713.2 146.7h0M713.5 156.4h0M713.7 165.5h0M714.0 175.1h0M714.3 185.4h0M714.5 195.0h0M714.8 197.5h0M715.0 199.7h0M715.3 200.0h0M715.5 202.8h0M715.8 202.0h0M716.1 204.5h0M716.3 205.7h0M716.6 206.0h0M716.8 207.6h0M717.1 208.9h0M717.3 211.6h0M717.6 211.0h0M717.9 214.2h0M718.1 215.4h0M718.4 218.2h0M718.6 220.1h0M718.9 220.9h0M719.1 221.4h0M719.4 221.8h0M719.7 222.0h0M719.9 224.2h0M720.2 225.3h0M720.4 226.3h0M720.7 228.1h0M721.0 230.6h0M721.2 233.7h0M721.5 235.7h0M721.7 237.5h0M722.0 237.4h0M722.2 238.7h0M722.5 240.7h0M722.8 249.7h0M723.0 259.9h0M723.3 268.8h0M723.5 279.9h0M723.8 290.9h0M724.0 302.4h0M724.3 318.4h0M724.6 333.6h0M724.8 351.2h0M725.1 363.7h0M725.3 370.9h0M725.6 380.4h0M725.8 387.8h0M726.1 396.3h0M726.4 404.1h0M726.6 411.6h0M726.9 418.9h0M727.1 426.9h0M727.4 434.7h0M727.7 441.9h0M727.9 449.1h0M728.2 455.1h0M728.4 459.1h0M728.7 463.9h0M728.9 468.3h0M729.2 465.6h0M729.5 461.3h0M729.7 457.2h0M730.0 453.3h0M730.2 449.8h0M730.5 448.4h0M730.7 444.4h0M731.0 440.7h0M731.3 437.0h0M731.5 431.3h0M731.8 425.2h0M732.0 420.0h0M732.3 413.6h0M732.5 408.3h0M732.8 403.8h0M733.1 398.3h0M733.3 392.8h0M733.6 388.7h0M733.8 384.5h0M734.1 379.0h0M734.4 373.9h0M734.6 370.1h0M734.9 363.4h0M735.1 357.1h0M735.4 352.2h0M735.6 347.8h0M735.9 341.3h0M736.2 336.4h0M736.4 329.6h0M736.7 325.9h0M736.9 322.4h0M737.2 318.7h0M737.4 317.5h0M737.7 314.5h0M738.0 311.7h0M738.2 309.4h0M738.5 305.0h0M738.7 301.8h0M739.0 299.2h0M739.2 296.5h0M739.5 293.0h0M739.8 292.6h0M740.0 290.1h0M740.3 289.1h0M740.5 288.8h0M740.8 287.1h0M741.0 286.7h0M741.3 284.3h0M741.6 282.9h0M741.8 280.0h0M742.1 278.6h0M742.3 277.4h0M742.6 275.4h0M742.9 274.6h0M743.1 274.3h0M743.4 274.4h0M743.6 273.6h0M743.9 272.9h0M744.1 271.5h0M744.4 270.5h0M744.7 269.3h0M744.9 266.7h0M745.2 265.2h0M745.4 263.8h0M745.7 261.0h0M745.9 261.3h0M746.2 260.8h0M746.5 260.3h0M746.7 259.0h0M747.0 259.0h0M747.2 257.0h0M747.5 255.9h0M747.7 255.3h0M748.0 251.7h0M748.3 250.7h0M748.5 249.0h0M748.8 248.4h0M749.0 247.8h0M749.3 248.5h0M749.6 247.6h0M749.8 247.7h0M750.1 248.9h0M750.3 247.8h0M750.6 249.2h0M750.8 250.9h0M751.1 252.2h0M751.4 254.0h0M751.6 255.9h0M751.9 258.1h0M752.1 261.9h0M752.4 269.3h0M752.6 275.9h0M752.9 284.1h0M753.2 290.5h0M753.4 298.9h0M753.7 305.7h0M753.9 313.9h0M754.2 319.8h0M754.4 325.2h0M754.7 332.2h0M755.0 338.2h0M755.2 342.6h0M755.5 347.1h0M755.7 354.7h0M756.0 360.0h0M756.3 364.4h0M756.5 371.6h0M756.8 377.1h0M757.0 381.0h0M757.3 384.7h0M757.5 385.7h0M757.8 389.1h0M758.1 391.9h0M758.3 395.1h0M758.6 398.0h0M758.8 401.2h0M759.1 405.0h0M759.3 408.0h0M759.6 414.0h0M759.9 419.0h0M760.1 425.6h0M760.4 430.7h0M760.6 435.8h0M760.9 441.5h0M761.1 446.7h0M761.4 452.6h0M761.7 451.7h0M761.9 446.6h0M762.2 443.4h0M762.4 439.4h0M762.7 435.2h0M763.0 431.2h0M763.2 429.9h0M763.5 427.5h0M763.7 424.8h0M764.0 423.2h0M764.2 421.0h0M764.5 418.7h0M764.8 415.8h0M765.0 414.6h0M765.3 418.2h0M765.5 419.5h0M765.8 422.4h0M766.0 426.6h0M766.3 427.8h0M766.6 429.4h0M766.8 430.3h0M767.1 433.2h0M767.3 433.6h0M767.6 436.0h0M767.8 437.2h0M768.1 438.6h0M768.4 442.7h0M768.6 444.1h0M768.9 447.2h0M769.1 449.6h0M769.4 451.1h0M769.7 453.6h0M769.9 455.2h0M770.2 457.5h0M770.4 458.5h0M770.7 459.4h0M770.9 462.1h0M771.2 463.1h0M771.5 465.1h0M771.7 466.6h0M772.0 469.8h0M772.2 470.7h0M772.5 473.6h0M772.7 474.3h0M773.0 476.3h0M773.3 477.0h0M773.5 478.0h0M773.8 478.8h0M774.0 479.3h0M774.3 480.3h0M774.5 480.7h0M774.8 482.0h0M775.1 485.6h0M775.3 487.1h0M775.6 487.7h0M775.8 491.4h0M776.1 491.0h0M776.4 492.2h0M776.6 492.3h0M776.9 492.2h0M777.1 492.6h0M777.4 491.6h0M777.6 492.9h0M777.9 493.5h0M778.2 494.8h0M778.4 495.8h0M778.7 496.8h0M778.9 497.8h0M779.2 499.7h0M779.4 499.2h0M779.7 500.2h0M780.0 500.3h0M780.2 499.8h0M780.5 500.0h0M780.7 500.1h0M781.0 499.8h0M781.2 500.9h0M781.5 502.7h0M781.8 501.8h0M782.0 503.1h0M782.3 503.5h0M782.5 505.5h0M782.8 503.6h0M783.0 504.3h0M783.3 504.6h0M783.6 503.2h0M783.8 503.6h0M784.1 503.5h0M784.3 503.6h0M784.6 505.1h0M784.9 506.4h0M785.1 506.7h0M785.4 507.8h0M785.6 508.6h0M785.9 509.1h0M786.1 507.6h0M786.4 508.5h0M786.7 507.5h0M786.9 506.6h0M787.2 507.3h0M787.4 508.5h0M787.7 509.0h0M787.9 509.0h0M788.2 511.5h0M788.5 511.4h0M788.7 511.6h0M789.0 511.5h0M789.2 511.9h0M789.5 511.1h0M789.7 511.6h0M790.0 510.7h0M790.3 510.8h0M790.5 510.3h0M790.8 510.0h0M791.0 512.4h0M791.3 515.6h0M791.6 520.3h0M791.8 524.4h0M792.1 527.7h0M792.3 532.1h0M792.6 533.9h0M792.8 538.7h0M793.1 540.6h0M793.4 545.0h0M793.6 549.0h0M793.9 551.8h0M794.1 556.2h0M794.4 561.7h0M794.6 562.2h0M794.9 560.3h0M795.2 557.0h0M795.4 554.7h0M795.7 553.3h0M795.9 550.9h0M796.2 546.7h0M796.4 543.7h0M796.7 541.7h0M797.0 539.4h0M797.2 536.5h0M797.5 533.0h0M797.7 529.2h0M798.0 528.4h0M798.3 524.1h0M798.5 521.8h0M798.8 516.2h0M799.0 513.7h0M799.3 509.2h0M799.5 504.8h0M799.8 502.2h0M800.1 499.2h0M800.3 496.3h0M800.6 495.5h0M800.8 493.1h0M801.1 492.0h0M801.3 490.8h0M801.6 489.0h0M801.9 487.5h0M802.1 484.1h0M802.4 482.9h0M802.6 480.4h0M802.9 477.3h0M803.1 474.5h0M803.4 471.9h0M803.7 471.7h0M803.9 469.9h0M804.2 469.8h0M804.4 468.9h0M804.7 469.1h0M805.0 468.3h0M805.2 467.3h0M805.5 466.2h0M805.7 464.8h0M806.0 463.9h0M806.2 461.7h0M806.5 461.7h0M806.8 460.8h0M807.0 460.2h0M807.3 459.6h0M807.5 460.9h0M807.8 459.8h0M808.0 458.9h0M808.3 458.9h0M808.6 458.2h0M808.8 457.2h0M809.1 455.9h0M809.3 456.1h0M809.6 455.5h0M809.8 455.3h0M810.1 456.3h0M810.4 455.2h0M810.6 455.9h0M810.9 456.8h0M811.1 457.3h0M811.4 457.0h0M811.7 456.5h0M811.9 454.1h0M812.2 455.9h0M812.4 456.6h0M812.7 457.7h0M812.9 458.1h0M813.2 460.4h0M813.5 462.4h0M813.7 464.7h0M814.0 465.7h0M814.2 466.4h0M814.5 468.7h0M814.7 470.1h0M815.0 470.9h0M815.3 472.4h0M815.5 471.9h0M815.8 472.2h0M816.0 473.6h0M816.3 476.1h0M816.5 477.3h0M816.8 479.3h0M817.1 481.6h0M817.3 484.9h0M817.6 486.2h0M817.8 487.4h0M818.1 489.4h0M818.3 490.3h0M818.6 490.4h0M818.9 492.5h0M819.1 493.5h0M819.4 493.8h0M819.6 496.2h0M819.9 499.2h0M820.2 499.0h0M820.4 496.5h0M820.7 493.8h0M820.9 492.1h0M821.2 488.0h0M821.4 486.4h0M821.7 482.8h0M822.0 479.7h0M822.2 476.4h0M822.5 474.6h0M822.7 470.3h0M823.0 469.0h0M823.2 466.2h0M823.5 461.8h0M823.8 459.2h0M824.0 454.5h0M824.3 449.4h0M824.5 445.8h0M824.8 440.2h0M825.0 435.7h0M825.3 430.3h0M825.6 425.7h0M825.8 422.3h0M826.1 417.9h0M826.3 413.7h0M826.6 409.9h0M826.9 407.0h0M827.1 403.7h0M827.4 397.9h0M827.6 394.2h0M827.9 387.3h0M828.1 383.3h0M828.4 379.7h0M828.7 375.6h0M828.9 370.3h0M829.2 367.1h0M829.4 363.9h0M829.7 361.5h0M829.9 357.4h0M830.2 355.4h0M830.5 351.5h0M830.7 348.0h0M831.0 344.3h0M831.2 340.2h0M831.5 335.8h0M831.7 332.2h0M832.0 328.2h0M832.3 327.2h0M832.5 324.5h0M832.8 321.8h0M833.0 321.0h0M833.3 318.8h0M833.6 316.0h0M833.8 312.8h0M834.1 310.3h0M834.3 307.4h0M834.6 304.7h0M834.8 300.7h0M835.1 297.2h0M835.4 295.5h0M835.6 291.8h0M835.9 288.2h0M836.1 284.6h0M836.4 282.6h0M836.6 279.9h0M836.9 276.3h0M837.2 272.7h0M837.4 268.4h0M837.7 265.0h0M837.9 259.9h0M838.2 256.2h0M838.4 252.5h0M838.7 249.1h0M839.0 247.5h0M839.2 242.5h0M839.5 240.7h0M839.7 237.0h0M840.0 233.6h0M840.3 234.2h0M840.5 232.8h0M840.8 233.2h0M841.0 234.0h0M841.3 232.1h0M841.5 232.2h0M841.8 232.2h0M842.1 234.0h0M842.3 234.1h0M842.6 236.4h0M842.8 237.5h0M843.1 239.9h0M843.3 239.3h0M843.6 239.6h0M843.9 239.7h0M844.1 239.8h0M844.4 241.9h0M844.6 243.4h0M844.9 243.6h0M845.1 245.9h0M845.4 247.2h0M845.7 249.7h0M845.9 251.8h0M846.2 252.5h0M846.4 254.6h0M846.7 256.9h0M847.0 256.3h0M847.2 259.4h0M847.5 261.4h0M847.7 263.5h0M848.0 266.6h0M848.2 269.7h0M848.5 273.0h0M848.8 274.5h0M849.0 280.5h0M849.3 282.6h0M849.5 286.6h0M849.8 288.7h0M850.0 291.0h0M850.3 293.3h0M850.6 297.2h0M850.8 298.3h0M851.1 299.4h0M851.3 302.3h0M851.6 305.6h0M851.8 308.3h0M852.1 310.6h0M852.4 312.0h0M852.6 312.9h0M852.9 315.2h0M853.1 316.2h0M853.4 317.5h0M853.7 316.3h0M853.9 317.4h0M854.2 315.5h0M854.4 313.7h0M854.7 310.7h0M854.9 308.5h0M855.2 306.1h0M855.5 305.8h0M855.7 303.6h0M856.0 302.1h0M856.2 298.5h0M856.5 297.5h0M856.7 292.4h0M857.0 290.0h0M857.3 286.8h0M857.5 284.4h0M857.8 281.0h0M858.0 278.3h0M858.3 276.1h0M858.5 275.2h0M858.8 272.8h0M859.1 271.1h0M859.3 269.4h0M859.6 268.7h0M859.8 267.3h0M860.1 265.9h0M860.3 263.1h0M860.6 262.0h0M860.9 262.4h0M861.1 260.2h0M861.4 259.8h0M861.6 259.2h0M861.9 258.1h0M862.2 258.2h0M862.4 259.0h0M862.7 258.0h0M862.9 259.0h0M863.2 256.1h0M863.4 255.0h0M863.7 255.1h0M864.0 254.1h0M864.2 255.5h0M864.5 254.5h0M864.7 255.3h0M865.0 254.5h0M865.2 257.5h0M865.5 259.0h0M865.8 260.7h0M866.0 261.1h0M866.3 262.1h0M866.5 262.6h0M866.8 263.8h0M867.0 263.9h0M867.3 265.7h0M867.6 266.5h0M867.8 269.0h0M868.1 270.6h0M868.3 273.0h0M868.6 275.6h0M868.9 279.2h0M869.1 279.4h0M869.4 281.1h0M869.6 284.0h0M869.9 284.6h0M870.1 286.6h0M870.4 288.5h0M870.7 292.4h0M870.9 293.1h0M871.2 294.8h0M871.4 296.2h0M871.7 297.6h0M871.9 298.7h0M872.2 298.1h0M872.5 299.5h0M872.7 300.5h0M873.0 298.3h0M873.2 299.7h0M873.5 300.1h0M873.7 300.3h0M874.0 301.0h0M874.3 300.1h0M874.5 302.9h0M874.8 302.5h0M875.0 303.0h0M875.3 303.9h0M875.6 301.6h0M875.8 302.5h0M876.1 301.2h0M876.3 296.6h0M876.6 292.0h0M876.8 288.6h0M877.1 283.5h0M877.4 280.3h0M877.6 276.6h0M877.9 271.7h0M878.1 267.9h0M878.4 264.7h0M878.6 258.1h0M878.9 252.7h0M879.2 246.2h0M879.4 241.1h0M879.7 234.8h0M879.9 229.8h0M880.2 225.4h0M880.4 219.7h0M880.7 215.2h0M881.0 211.8h0M881.2 206.7h0M881.5 201.9h0M881.7 197.1h0M882.0 190.7h0M882.3 185.2h0M882.5 178.5h0M882.8 174.4h0M883.0 168.3h0M883.3 163.2h0M883.5 157.5h0M883.8 153.8h0M884.1 150.0h0M884.3 148.3h0M884.6 145.8h0M884.8 144.5h0M885.1 142.9h0M885.3 140.1h0M885.6 138.4h0M885.9 136.2h0M886.1 134.2h0M886.4 135.6h0M886.6 136.6h0M886.9 139.3h0M887.1 141.0h0M887.4 144.0h0M887.7 144.2h0M887.9 145.2h0M888.2 148.6h0M888.4 151.2h0M888.7 154.2h0M889.0 157.4h0M889.2 159.2h0M889.5 162.6h0M889.7 164.1h0M890.0 169.4h0M890.2 171.6h0M890.5 174.1h0M890.8 176.7h0M891.0 180.4h0M891.3 181.5h0M891.5 184.5h0M891.8 185.2h0M892.0 187.1h0M892.3 188.8h0M892.6 191.5h0M892.8 192.4h0M893.1 194.6h0M893.3 196.7h0M893.6 199.1h0M893.8 201.4h0M894.1 205.3h0M894.4 207.3h0M894.6 207.9h0M894.9 210.0h0M895.1 210.5h0M895.4 212.9h0M895.6 213.9h0M895.9 215.0h0M896.2 216.1h0M896.4 219.1h0M896.7 221.2h0M896.9 223.0h0M897.2 225.8h0M897.5 226.7h0M897.7 228.9h0M898.0 230.2h0M898.2 232.3h0M898.5 234.6h0M898.7 235.0h0M899.0 237.1h0M899.3 238.2h0M899.5 240.1h0M899.8 243.3h0M900.0 245.6h0M900.3 249.3h0M900.5 252.0h0M900.8 253.7h0M901.1 255.2h0M901.3 259.0h0M901.6 260.3h0M901.8 262.1h0M902.1 264.1h0M902.3 266.9h0M902.6 269.8h0M902.9 272.8h0M903.1 277.1h0M903.4 278.4h0M903.6 282.2h0M903.9 284.4h0M904.2 288.3h0M904.4 293.4h0M904.7 297.7h0M904.9 300.7h0M905.2 306.3h0M905.4 309.3h0M905.7 315.0h0M906.0 319.2h0M906.2 324.9h0M906.5 329.9h0M906.7 334.1h0M907.0 339.1h0M907.2 342.3h0M907.5 346.3h0M907.8 350.6h0M908.0 355.2h0M908.3 357.5h0M908.5 361.2h0M908.8 366.5h0M909.0 369.7h0M909.3 374.3h0M909.6 378.6h0M909.8 384.1h0M910.1 389.2h0M910.3 393.4h0M910.6 397.7h0M910.9 399.9h0M911.1 402.7h0M911.4 404.8h0M911.6 406.5h0M911.9 409.6h0M912.1 412.9h0M912.4 415.1h0M912.7 414.7h0M912.9 414.4h0M913.2 413.0h0M913.4 413.3h0M913.7 410.6h0M913.9 407.5h0M914.2 405.9h0M914.5 404.5h0M914.7 400.6h0M915.0 398.9h0M915.2 396.9h0M915.5 394.7h0M915.7 392.7h0M916.0 391.6h0M916.3 389.1h0M916.5 387.9h0M916.8 386.0h0M917.0 384.0h0M917.3 381.5h0M917.6 379.0h0M917.8 376.0h0M918.1 373.7h0M918.3 373.2h0M918.6 372.9h0M918.8 372.6h0M919.1 371.2h0M919.4 372.0h0M919.6 372.2h0M919.9 371.3h0M920.1 372.7h0M920.4 374.7h0M920.6 377.1h0M920.9 378.0h0M921.2 381.2h0M921.4 382.8h0M921.7 385.1h0M921.9 388.1h0M922.2 393.8h0M922.4 399.5h0M922.7 404.8h0M923.0 410.8h0M923.2 415.3h0M923.5 419.9h0M923.7 424.3h0M924.0 430.0h0M924.3 434.5h0M924.5 439.3h0M924.8 444.2h0M925.0 450.1h0M925.3 454.3h0M925.5 460.0h0M925.8 467.4h0M926.1 472.1h0M926.3 475.7h0M926.6 478.7h0M926.8 483.1h0M927.1 486.8h0M927.3 490.3h0M927.6 491.0h0M927.9 487.0h0M928.1 484.3h0M928.4 479.8h0M928.6 477.4h0M928.9 474.3h0M929.1 472.4h0M929.4 469.0h0M929.7 466.1h0M929.9 462.1h0M930.2 460.5h0M930.4 454.7h0M930.7 449.8h0M931.0 446.3h0M931.2 442.4h0M931.5 439.8h0M931.7 436.9h0M932.0 433.6h0M932.2 430.4h0M932.5 427.2h0M932.8 425.4h0M933.0 421.7h0M933.3 416.8h0M933.5 415.9h0M933.8 412.6h0M934.0 410.3h0M934.3 409.0h0M934.6 405.2h0M934.8 403.3h0M935.1 403.8h0M935.3 400.5h0M935.6 399.0h0M935.8 398.1h0M936.1 395.2h0M936.4 393.6h0M936.6 391.6h0M936.9 390.0h0M937.1 385.8h0M937.4 384.2h0M937.6 382.7h0M937.9 381.8h0M938.2 379.5h0M938.4 379.0h0M938.7 377.3h0M938.9 376.1h0M939.2 375.8h0M939.5 373.4h0M939.7 373.5h0M940.0 369.9h0M940.2 368.3h0M940.5 366.1h0M940.7 363.0h0M941.0 361.6h0M941.3 361.7h0M941.5 359.8h0M941.8 359.2h0M942.0 358.5h0M942.3 357.9h0M942.5 358.5h0M942.8 357.4h0M943.1 355.9h0M943.3 354.9h0M943.6 352.8h0M943.8 352.9h0M944.1 352.3h0M944.3 356.9h0M944.6 358.9h0M944.9 362.5h0M945.1 367.0h0M945.4 370.0h0M945.6 373.4h0M945.9 379.3h0M946.2 383.7h0M946.4 388.3h0M946.7 393.3h0M946.9 397.9h0M947.2 403.1h0M947.4 408.0h0M947.7 413.4h0M948.0 418.8h0M948.2 425.5h0M948.5 429.8h0M948.7 436.9h0M949.0 442.2h0M949.2 450.3h0M949.5 457.0h0M949.8 466.4h0M950.0 473.8h0M950.3 482.0h0M950.5 491.9h0M950.8 499.1h0M951.0 508.5h0M951.3 516.8h0M951.6 521.9h0M951.8 518.0h0M952.1 512.3h0M952.3 506.5h0M952.6 500.0h0M952.9 492.2h0M953.1 486.4h0M953.4 478.7h0M953.6 471.0h0M953.9 461.9h0M954.1 454.6h0M954.4 447.5h0M954.7 440.4h0M954.9 432.6h0M955.2 425.6h0M955.4 419.2h0M955.7 409.6h0M955.9 400.8h0M956.2 393.5h0M956.5 385.1h0M956.7 377.7h0M957.0 369.1h0M957.2 364.4h0M957.5 359.3h0M957.7 354.7h0M958.0 350.9h0M958.3 345.9h0M958.5 341.1h0M958.8 340.0h0M959.0 337.5h0M959.3 336.2h0M959.6 334.6h0M959.8 333.5h0M960.1 331.2h0M960.3 334.5h0M960.6 337.6h0M960.8 339.7h0M961.1 342.9h0M961.4 345.9h0M961.6 348.2h0M961.9 349.0h0M962.1 352.6h0M962.4 356.2h0M962.6 362.8h0M962.9 367.2h0M963.2 372.8h0M963.4 377.2h0M963.7 382.0h0M963.9 389.0h0M964.2 392.3h0M964.4 397.5h0M964.7 401.6h0M965.0 406.1h0M965.2 409.8h0M965.5 412.3h0M965.7 415.4h0M966.0 419.1h0M966.3 420.1h0M966.5 422.4h0M966.8 423.8h0M967.0 426.4h0M967.3 429.3h0M967.5 429.3h0M967.8 431.5h0M968.1 433.8h0M968.3 435.2h0M968.6 434.2h0M968.8 428.3h0M969.1 425.8h0M969.3 419.3h0M969.6 413.8h0M969.9 408.7h0M970.1 406.8h0M970.4 402.2h0M970.6 396.5h0M970.9 388.6h0M971.1 381.7h0M971.4 373.8h0M971.7 364.5h0M971.9 359.4h0M972.2 349.7h0M972.4 340.9h0M972.7 333.5h0M972.9 327.2h0M973.2 322.8h0M973.5 315.7h0M973.7 308.8h0M974.0 304.2h0M974.2 297.9h0M974.5 291.6h0M974.8 285.8h0M975.0 280.2h0M975.3 274.7h0M975.5 268.7h0M975.8 262.4h0M976.0 257.3h0M976.3 252.9h0M976.6 247.8h0M976.8 246.7h0M977.1 244.6h0M977.3 243.1h0M977.6 240.4h0M977.8 237.5h0M978.1 234.6h0M978.4 231.9h0M978.6 229.9h0M978.9 227.5h0M979.1 226.2h0M979.4 226.0h0M979.6 224.7h0M979.9 225.4h0M980.2 230.5h0M980.4 236.9h0M980.7 243.5h0M980.9 248.5h0M981.2 254.1h0M981.5 259.0h0M981.7 268.0h0M982.0 278.2h0M982.2 288.5h0M982.5 298.4h0M982.7 307.4h0M983.0 319.7h0M983.3 330.2h0M983.5 340.8h0M983.8 352.0h0M984.0 362.9h0M984.3 372.7h0M984.5 381.4h0M984.8 389.7h0M985.1 393.2h0M985.3 399.8h0M985.6 403.3h0M985.8 397.8h0M986.1 394.7h0M986.3 390.1h0M986.6 386.7h0M986.9 382.6h0M987.1 379.2h0M987.4 370.8h0M987.6 365.3h0M987.9 358.0h0M988.2 349.8h0M988.4 345.0h0M988.7 336.8h0M988.9 330.5h0M989.2 325.9h0M989.4 321.2h0M989.7 317.4h0M990.0 313.9h0M990.2 309.3h0M990.5 305.5h0M990.7 301.5h0M991.0 295.2h0M991.2 292.2h0M991.5 290.6h0M991.8 288.5h0M992.0 286.6h0M992.3 283.7h0M992.5 281.3h0M992.8 281.9h0M993.0 281.1h0M993.3 283.3h0M993.6 283.4h0M993.8 285.6h0M994.1 286.8h0M994.3 285.9h0M994.6 288.3h0M994.9 289.3h0M995.1 290.8h0M995.4 294.6h0M995.6 298.9h0M995.9 302.6h0M996.1 306.4h0M996.4 311.1h0M996.7 315.8h0M996.9 319.4h0M997.2 325.0h0M997.4 328.8h0M997.7 333.6h0M997.9 337.2h0M998.2 343.2h0M998.5 347.5h0M998.7 354.2h0M999.0 357.8h0M999.2 364.7h0M999.5 370.1h0M999.7 375.7h0M1000.0 382.3h0M1000.3 386.9h0M1000.5 390.6h0M1000.8 396.6h0M1001.0 399.7h0M1001.3 404.0h0M1001.6 406.0h0M1001.8 410.8h0M1002.1 415.0h0M1002.3 419.3h0M1002.6 423.0h0M1002.8 427.2h0M1003.1 432.6h0M1003.4 436.9h0M1003.6 440.1h0M1003.9 443.3h0M1004.1 445.8h0M1004.4 449.9h0M1004.6 453.2h0M1004.9 456.9h0M1005.2 461.0h0M1005.4 464.5h0M1005.7 468.3h0M1005.9 471.6h0M1006.2 474.8h0M1006.4 478.4h0M1006.7 481.3h0M1007.0 483.2h0M1007.2 486.5h0M1007.5 488.2h0M1007.7 488.9h0M1008.0 490.5h0M1008.3 491.8h0M1008.5 494.1h0M1008.8 495.1h0M1009.0 497.4h0M1009.3 499.6h0M1009.5 500.2h0M1009.8 501.5h0M1010.1 501.4h0M1010.3 501.7h0M1010.6 500.5h0M1010.8 499.8h0M1011.1 498.6h0M1011.3 498.6h0M1011.6 498.8h0M1011.9 499.6h0M1012.1 497.3h0M1012.4 488.6h0M1012.6 481.9h0M1012.9 474.3h0M1013.1 468.0h0M1013.4 458.3h0M1013.7 449.8h0M1013.9 442.3h0M1014.2 432.1h0M1014.4 423.9h0M1014.7 413.7h0M1014.9 407.3h0M1015.2 397.6h0M1015.5 388.9h0M1015.7 379.8h0M1016.0 371.8h0M1016.2 365.2h0M1016.5 357.9h0M1016.8 352.1h0M1017.0 344.2h0M1017.3 337.5h0M1017.5 330.8h0M1017.8 325.0h0M1018.0 318.3h0M1018.3 315.5h0M1018.6 312.6h0M1018.8 309.7h0M1019.1 305.0h0M1019.3 303.2h0M1019.6 301.1h0M1019.8 303.9h0M1020.1 307.3h0M1020.4 309.2h0M1020.6 313.1h0M1020.9 317.2h0M1021.1 322.0h0M1021.4 325.8h0M1021.6 331.0h0M1021.9 335.5h0M1022.2 340.9h0M1022.4 344.6h0M1022.7 352.9h0M1022.9 361.5h0M1023.2 370.1h0M1023.5 378.9h0M1023.7 388.1h0M1024.0 398.3h0M1024.2 414.3h0M1024.5 428.1h0M1024.7 443.7h0M1025.0 460.5h0M1025.3 481.6h0M1025.5 501.9h0M1025.8 524.1h0M1026.0 544.4h0M1026.3 569.7h0M1026.5 594.3h0M1026.8 619.6h0M1027.1 643.4h0M1027.3 658.6h0M1027.6 675.9h0M1027.8 693.7h0M1028.1 706.3h0M1028.3 714.6h0M1028.6 719.6h0M1028.9 725.8h0M1029.1 730.3h0M1029.4 733.0h0M1029.6 733.8h0M1029.9 735.1h0M1030.2 736.1h0M1030.4 737.6h0M1030.7 738.2h0M1030.9 741.4h0M1031.2 741.6h0M1031.4 739.5h0M1031.7 741.3h0M1032.0 742.4h0M1032.2 742.5h0M1032.5 738.3h0M1032.7 737.4h0M1033.0 736.5h0M1033.2 731.8h0M1033.5 728.9h0M1033.8 725.4h0M1034.0 722.8h0M1034.3 711.9h0M1034.5 702.9h0M1034.8 690.3h0M1035.0 679.3h0M1035.3 667.2h0M1035.6 655.9h0M1035.8 645.0h0M1036.1 637.0h0M1036.3 628.9h0M1036.6 622.1h0M1036.9 616.5h0M1037.1 610.8h0M1037.4 603.4h0M1037.6 595.5h0M1037.9 588.0h0M1038.1 582.2h0M1038.4 575.4h0M1038.7 575.5h0M1038.9 573.0h0M1039.2 573.4h0M1039.4 574.0h0M1039.7 575.6h0M1039.9 576.7h0M1040.2 578.1h0M1040.5 580.7h0M1040.7 583.8h0M1041.0 584.6h0M1041.2 587.7h0M1041.5 591.0h0M1041.7 593.8h0M1042.0 596.8h0M1042.3 597.7h0M1042.5 600.0h0M1042.8 601.6h0M1043.0 603.6h0M1043.3 605.0h0M1043.6 606.1h0M1043.8 608.7h0M1044.1 611.0h0M1044.3 611.9h0M1044.6 613.5h0M1044.8 616.2h0M1045.1 616.0h0M1045.4 616.8h0M1045.6 613.8h0M1045.9 615.0h0M1046.1 614.2h0M1046.4 614.4h0M1046.6 615.4h0M1046.9 616.1h0M1047.2 616.1h0M1047.4 617.5h0M1047.7 617.0h0M1047.9 618.3h0M1048.2 613.6h0M1048.4 606.4h0M1048.7 601.4h0M1049.0 593.8h0M1049.2 587.8h0M1049.5 580.7h0M1049.7 575.1h0M1050.0 569.6h0M1050.2 563.2h0M1050.5 557.1h0M1050.8 551.9h0M1051.0 545.6h0M1051.3 538.9h0M1051.5 532.6h0M1051.8 525.6h0M1052.1 518.7h0M1052.3 513.7h0M1052.6 508.7h0M1052.8 502.0h0M1053.1 497.1h0M1053.3 491.9h0M1053.6 487.0h0M1053.9 484.0h0M1054.1 479.5h0M1054.4 478.0h0M1054.6 474.6h0M1054.9 472.4h0M1055.1 470.2h0M1055.4 467.3h0M1055.7 464.3h0M1055.9 461.8h0M1056.2 459.7h0M1056.4 458.5h0M1056.7 457.5h0M1056.9 455.6h0M1057.2 453.8h0M1057.5 451.7h0M1057.7 450.3h0M1058.0 448.3h0M1058.2 447.0h0M1058.5 442.7h0M1058.8 440.7h0M1059.0 438.2h0M1059.3 436.6h0M1059.5 433.3h0M1059.8 430.4h0M1060.0 428.3h0M1060.3 427.7h0M1060.6 424.4h0M1060.8 423.7h0M1061.1 421.5h0M1061.3 419.1h0M1061.6 418.2h0M1061.8 417.0h0M1062.1 414.9h0M1062.4 414.0h0M1062.6 413.6h0M1062.9 413.5h0M1063.1 413.4h0M1063.4 412.0h0M1063.6 413.0h0M1063.9 412.3h0M1064.2 412.8h0M1064.4 413.6h0M1064.7 415.2h0M1064.9 416.1h0M1065.2 415.6h0M1065.5 416.6h0M1065.7 416.8h0M1066.0 418.9h0M1066.2 421.2h0M1066.5 422.5h0M1066.7 424.6h0M1067.0 425.9h0M1067.3 428.4h0M1067.5 430.7h0M1067.8 432.5h0M1068.0 432.5h0M1068.3 435.1h0M1068.5 435.1h0M1068.8 438.8h0M1069.1 440.7h0M1069.3 443.2h0M1069.6 447.2h0M1069.8 449.2h0M1070.1 452.2h0M1070.3 453.9h0M1070.6 456.2h0M1070.9 456.5h0M1071.1 457.7h0M1071.4 458.9h0M1071.6 461.6h0M1071.9 461.2h0M1072.2 463.2h0M1072.4 465.9h0M1072.7 467.9h0M1072.9 469.3h0M1073.2 471.8h0M1073.4 471.6h0M1073.7 472.4h0M1074.0 471.9h0M1074.2 471.6h0M1074.5 470.3h0M1074.7 471.1h0M1075.0 469.6h0M1075.2 467.3h0M1075.5 465.3h0M1075.8 462.1h0M1076.0 460.3h0M1076.3 458.1h0M1076.5 456.0h0M1076.8 453.7h0M1077.0 449.6h0M1077.3 446.4h0M1077.6 444.0h0M1077.8 437.5h0M1078.1 434.4h0M1078.3 431.5h0M1078.6 426.5h0M1078.9 423.9h0M1079.1 421.0h0M1079.4 419.6h0M1079.6 415.3h0M1079.9 413.1h0M1080.1 409.2h0M1080.4 406.3h0M1080.7 402.2h0M1080.9 398.4h0M1081.2 395.4h0M1081.4 391.4h0M1081.7 389.0h0M1081.9 386.4h0M1082.2 384.0h0M1082.5 382.2h0M1082.7 379.7h0M1083.0 375.6h0M1083.2 373.7h0M1083.5 372.7h0M1083.7 369.0h0M1084.0 365.9h0M1084.3 363.8h0M1084.5 360.0h0M1084.8 358.4h0M1085.0 355.5h0M1085.3 355.4h0M1085.6 353.6h0M1085.8 353.4h0M1086.1 352.6h0M1086.3 351.8h0M1086.6 349.0h0M1086.8 347.6h0M1087.1 345.0h0M1087.4 342.8h0M1087.6 341.6h0M1087.9 340.2h0M1088.1 339.4h0M1088.4 337.2h0M1088.6 337.6h0M1088.9 335.7h0M1089.2 336.0h0M1089.4 335.3h0M1089.7 334.5h0M1089.9 335.7h0M1090.2 333.8h0M1090.4 333.7h0M1090.7 331.9h0M1091.0 331.6h0M1091.2 330.6h0M1091.5 330.2h0M1091.7 330.3h0M1092.0 331.0h0M1092.2 330.1h0M1092.5 330.4h0M1092.8 331.5h0M1093.0 330.1h0M1093.3 329.9h0M1093.5 328.1h0M1093.8 327.9h0M1094.1 327.8h0M1094.3 326.8h0M1094.6 326.8h0M1094.8 326.7h0M1095.1 327.4h0M1095.3 326.8h0M1095.6 327.4h0M1095.9 329.0h0M1096.1 327.7h0M1096.4 329.3h0M1096.6 328.5h0M1096.9 326.6h0M1097.1 325.4h0M1097.4 324.8h0M1097.7 326.2h0M1097.9 326.1h0M1098.2 327.3h0M1098.4 327.3h0M1098.7 328.5h0M1098.9 328.5h0M1099.2 327.4h0M1099.5 327.5h0M1099.7 326.5h0M1100.0 326.0h0M1100.2 325.0h0M1100.5 324.5h0M1100.8 324.9h0M1101.0 323.5h0M1101.3 323.1h0M1101.5 323.7h0M1101.8 324.2h0M1102.0 324.4h0M1102.3 324.7h0M1102.6 324.4h0M1102.8 324.8h0M1103.1 323.9h0M1103.3 322.1h0M1103.6 322.3h0M1103.8 321.9h0M1104.1 319.5h0M1104.4 315.9h0M1104.6 313.8h0M1104.9 310.8h0M1105.1 308.3h0M1105.4 304.6h0M1105.6 303.4h0M1105.9 298.6h0M1106.2 295.3h0M1106.4 290.8h0M1106.7 286.7h0M1106.9 280.7h0M1107.2 276.9h0M1107.5 272.2h0M1107.7 270.5h0M1108.0 265.4h0M1108.2 261.8h0M1108.5 259.8h0M1108.7 255.0h0M1109.0 251.1h0M1109.3 248.5h0M1109.5 244.7h0M1109.8 241.0h0M1110.0 237.6h0M1110.3 232.7h0M1110.5 231.6h0M1110.8 228.8h0M1111.1 226.6h0M1111.3 221.8h0M1111.6 220.1h0M1111.8 217.7h0M1112.1 216.5h0M1112.3 213.7h0M1112.6 212.0h0M1112.9 208.7h0M1113.1 205.5h0M1113.4 202.7h0M1113.6 200.9h0M1113.9 200.2h0M1114.2 197.3h0M1114.4 195.3h0M1114.7 195.2h0M1114.9 194.4h0M1115.2 194.5h0M1115.4 193.4h0M1115.7 192.6h0M1116.0 190.2h0M1116.2 190.1h0M1116.5 189.3h0M1116.7 189.1h0M1117.0 188.1h0M1117.2 189.2h0M1117.5 189.6h0M1117.8 189.3h0M1118.0 189.7h0M1118.3 190.5h0M1118.5 190.8h0M1118.8 190.9h0M1119.0 189.6h0M1119.3 190.5h0M1119.6 189.2h0M1119.8 188.8h0M1120.1 190.0h0M1120.3 191.9h0M1120.6 195.8h0M1120.9 199.8h0M1121.1 201.9h0M1121.4 204.8h0M1121.6 207.2h0M1121.9 210.8h0M1122.1 213.2h0M1122.4 214.2h0M1122.7 218.3h0M1122.9 220.1h0M1123.2 222.7h0M1123.4 226.7h0M1123.7 229.8h0M1123.9 234.7h0M1124.2 234.9h0M1124.5 235.8h0M1124.7 236.8h0M1125.0 237.7h0M1125.2 238.3h0M1125.5 237.2h0M1125.7 237.3h0M1126.0 236.7h0M1126.3 237.5h0M1126.5 237.4h0M1126.8 239.9h0M1127.0 240.8h0M1127.3 240.9h0M1127.5 243.5h0M1127.8 245.3h0M1128.1 246.2h0M1128.3 247.4h0M1128.6 248.9h0M1128.8 249.1h0M1129.1 249.8h0M1129.4 250.8h0M1129.6 252.6h0M1129.9 253.1h0M1130.1 255.3h0M1130.4 257.5h0M1130.6 260.1h0M1130.9 261.8h0M1131.2 263.6h0M1131.4 265.2h0M1131.7 267.1h0M1131.9 268.3h0M1132.2 269.2h0M1132.4 270.6h0M1132.7 273.3h0M1133.0 274.0h0M1133.2 275.7h0M1133.5 281.3h0M1133.7 284.4h0M1134.0 287.5h0M1134.2 292.5h0M1134.5 295.0h0M1134.8 298.7h0M1135.0 300.9h0M1135.3 309.9h0M1135.5 317.2h0M1135.8 326.1h0M1136.1 334.4h0M1136.3 341.9h0M1136.6 353.6h0M1136.8 369.7h0M1137.1 385.5h0M1137.3 400.4h0M1137.6 418.7h0M1137.9 437.3h0M1138.1 445.7h0M1138.4 437.4h0M1138.6 431.7h0M1138.9 424.3h0M1139.1 419.1h0M1139.4 410.6h0M1139.7 405.4h0M1139.9 398.2h0M1140.2 391.6h0M1140.4 386.5h0M1140.7 379.7h0M1140.9 373.2h0M1141.2 366.9h0M1141.5 362.8h0M1141.7 359.4h0M1142.0 354.1h0M1142.2 351.2h0M1142.5 347.4h0M1142.8 342.6h0M1143.0 339.4h0M1143.3 338.7h0M1143.5 337.8h0M1143.8 337.1h0M1144.0 335.9h0M1144.3 334.8h0M1144.6 332.7h0M1144.8 330.8h0M1145.1 329.0h0M1145.3 327.1h0M1145.6 325.8h0M1145.8 325.0h0M1146.1 325.1h0M1146.4 322.6h0M1146.6 322.5h0M1146.9 323.0h0M1147.1 322.5h0M1147.4 321.6h0M1147.6 321.7h0M1147.9 318.1h0M1148.2 317.7h0M1148.4 315.6h0M1148.7 315.0h0M1148.9 314.6h0M1149.2 312.8h0M1149.5 313.9h0M1149.7 312.5h0M1150.0 312.1h0M1150.2 311.1h0M1150.5 310.7h0M1150.7 309.4h0M1151.0 308.9h0M1151.3 305.8h0M1151.5 305.2h0M1151.8 304.0h0M1152.0 302.0h0M1152.3 301.6h0M1152.5 300.0h0M1152.8 300.2h0M1153.1 299.2h0M1153.3 300.1h0M1153.6 297.8h0M1153.8 296.7h0M1154.1 294.7h0M1154.3 289.8h0M1154.6 285.5h0M1154.9 281.4h0M1155.1 277.6h0M1155.4 272.8h0M1155.6 269.6h0M1155.9 266.1h0M1156.2 263.3h0M1156.4 260.1h0M1156.7 256.3h0M1156.9 252.5h0M1157.2 249.0h0M1157.4 242.7h0M1157.7 239.3h0M1158.0 233.8h0M1158.2 227.8h0M1158.5 224.4h0M1158.7 219.3h0M1159.0 216.2h0M1159.2 211.3h0M1159.5 209.3h0M1159.8 204.5h0M1160.0 202.0h0M1160.3 197.0h0M1160.5 193.7h0M1160.8 188.9h0M1161.0 185.6h0M1161.3 181.7h0M1161.6 178.3h0M1161.8 176.1h0M1162.1 172.4h0M1162.3 169.0h0M1162.6 165.5h0M1162.9 162.6h0M1163.1 160.2h0M1163.4 158.2h0M1163.6 157.2h0M1163.9 154.5h0M1164.1 152.6h0M1164.4 149.8h0M1164.7 148.1h0M1164.9 147.1h0M1165.2 144.8h0M1165.4 143.8h0M1165.7 141.6h0M1165.9 140.9h0M1166.2 140.6h0M1166.5 141.1h0M1166.7 140.6h0M1167.0 139.3h0M1167.2 139.1h0M1167.5 138.1h0M1167.7 136.4h0M1168.0 136.8h0M1168.3 137.4h0M1168.5 136.2h0M1168.8 137.7h0M1169.0 137.8h0M1169.3 138.1h0M1169.5 138.7h0M1169.8 138.0h0M1170.1 138.7h0M1170.3 137.0h0M1170.6 136.7h0M1170.8 137.2h0M1171.1 136.0h0M1171.4 137.9h0M1171.6 137.2h0M1171.9 138.1h0M1172.1 139.1h0M1172.4 139.4h0M1172.6 140.6h0M1172.9 141.6h0M1173.2 141.8h0M1173.4 142.9h0M1173.7 142.6h0M1173.9 142.1h0M1174.2 142.9h0M1174.4 142.6h0M1174.7 143.8h0M1175.0 144.4h0M1175.2 145.3h0M1175.5 146.1h0M1175.7 147.3h0M1176.0 148.6h0M1176.2 149.4h0M1176.5 148.1h0M1176.8 149.2h0M1177.0 149.8h0M1177.3 149.4h0M1177.5 149.2h0M1177.8 149.8h0M1178.1 152.3h0M1178.3 151.2h0M1178.6 153.0h0M1178.8 154.7h0M1179.1 153.8h0M1179.3 155.9h0M1179.6 154.8h0M1179.9 156.3h0M1180.1 157.2h0M1180.4 154.7h0M1180.6 155.4h0M1180.9 156.0h0M1181.1 156.1h0M1181.4 157.6h0M1181.7 159.4h0M1181.9 163.1h0M1182.2 166.4h0M1182.4 170.0h0M1182.7 173.2h0M1182.9 176.1h0M1183.2 177.9h0M1183.5 179.7h0M1183.7 182.6h0M1184.0 185.3h0M1184.2 188.1h0M1184.5 191.6h0M1184.8 194.3h0M1185.0 197.6h0M1185.3 200.7h0M1185.5 203.6h0M1185.8 206.0h0M1186.0 209.1h0M1186.3 210.7h0M1186.6 212.7h0M1186.8 214.1h0M1187.1 216.6h0M1187.3 219.2h0M1187.6 222.7h0M1187.8 225.0h0M1188.1 231.3h0M1188.4 235.7h0M1188.6 239.9h0M1188.9 244.2h0M1189.1 249.1h0M1189.4 252.8h0M1189.6 255.1h0M1189.9 259.5h0M1190.2 264.6h0M1190.4 271.4h0M1190.7 277.7h0M1190.9 285.3h0M1191.2 291.7h0M1191.5 299.0h0M1191.7 305.0h0M1192.0 308.5h0M1192.2 312.5h0M1192.5 316.6h0M1192.7 319.4h0M1193.0 322.7h0M1193.3 327.3h0M1193.5 330.7h0M1193.8 334.3h0M1194.0 340.0h0M1194.3 343.4h0M1194.5 346.8h0M1194.8 350.0h0M1195.1 353.7h0M1195.3 356.7h0M1195.6 360.4h0M1195.8 361.7h0M1196.1 365.2h0M1196.3 367.6h0M1196.6 369.5h0M1196.9 373.5h0M1197.1 376.2h0M1197.4 381.0h0M1197.6 384.2h0M1197.9 387.1h0M1198.2 390.2h0M1198.4 393.1h0M1198.7 395.9h0M1198.9 399.0h0M1199.2 400.3h0M1199.4 404.0h0M1199.7 406.2h0M1200.0 408.2h0M1200.2 410.3h0M1200.5 412.8h0M1200.7 413.3h0M1201.0 416.0h0M1201.2 416.6h0M1201.5 418.0h0M1201.8 420.2h0M1202.0 419.5h0M1202.3 422.0h0M1202.5 421.9h0M1202.8 421.1h0M1203.0 421.1h0M1203.3 421.1h0M1203.6 422.0h0M1203.8 422.3h0M1204.1 422.6h0M1204.3 423.0h0M1204.6 423.0h0M1204.8 424.0h0M1205.1 422.3h0M1205.4 424.1h0M1205.6 423.0h0M1205.9 421.5h0M1206.1 422.6h0M1206.4 421.9h0M1206.7 422.7h0M1206.9 422.7h0M1207.2 424.2h0M1207.4 425.8h0M1207.7 426.6h0M1207.9 427.6h0M1208.2 427.4h0M1208.5 428.3h0M1208.7 427.0h0M1209.0 427.4h0M1209.2 426.9h0M1209.5 429.5h0M1209.7 430.7h0M1210.0 432.6h0M1210.3 435.0h0M1210.5 437.5h0M1210.8 438.0h0M1211.0 440.4h0M1211.3 441.0h0M1211.5 444.6h0M1211.8 445.3h0M1212.1 445.7h0M1212.3 447.3h0M1212.6 448.4h0M1212.8 449.0h0M1213.1 451.6h0M1213.4 454.0h0M1213.6 456.1h0M1213.9 457.8h0M1214.1 459.9h0M1214.4 463.5h0M1214.6 463.9h0M1214.9 465.5h0M1215.2 465.5h0M1215.4 467.9h0M1215.7 468.8h0M1215.9 469.5h0M1216.2 472.5h0M1216.4 473.7h0M1216.7 476.3h0M1217.0 478.5h0M1217.2 480.1h0M1217.5 482.8h0M1217.7 485.2h0M1218.0 485.3h0M1218.2 485.5h0M1218.5 485.6h0M1218.8 486.6h0M1219.0 486.1h0M1219.3 487.0h0M1219.5 488.3h0M1219.8 488.0h0M1220.1 490.7h0M1220.3 491.1h0M1220.6 491.3h0M1220.8 490.4h0M1221.1 487.5h0M1221.3 483.9h0M1221.6 481.9h0M1221.9 478.7h0M1222.1 476.7h0M1222.4 473.8h0M1222.6 471.8h0M1222.9 470.7h0M1223.1 466.7h0M1223.4 465.1h0M1223.7 461.9h0M1223.9 459.1h0M1224.2 454.1h0M1224.4 451.2h0M1224.7 447.6h0M1224.9 444.9h0M1225.2 439.1h0M1225.5 435.4h0M1225.7 432.4h0M1226.0 429.5h0M1226.2 426.3h0M1226.5 424.3h0M1226.8 420.9h0M1227.0 420.3h0M1227.3 416.2h0M1227.5 413.4h0M1227.8 411.5h0M1228.0 406.0h0M1228.3 401.9h0M1228.6 398.6h0M1228.8 397.0h0M1229.1 393.3h0M1229.3 391.5h0M1229.6 390.7h0M1229.8 389.6h0M1230.1 388.9h0M1230.4 387.3h0M1230.6 385.3h0M1230.9 383.3h0M1231.1 380.2h0M1231.4 377.6h0M1231.6 376.3h0M1231.9 374.3h0M1232.2 372.2h0M1232.4 370.8h0M1232.7 371.6h0M1232.9 372.0h0M1233.2 374.0h0M1233.5 375.0h0M1233.7 375.4h0M1234.0 377.6h0M1234.2 377.6h0M1234.5 378.4h0M1234.7 378.9h0M1235.0 378.4h0M1235.3 381.0h0M1235.5 381.7h0M1235.8 383.8h0M1236.0 386.0h0M1236.3 386.6h0M1236.5 388.3h0M1236.8 390.3h0M1237.1 392.1h0M1237.3 393.1h0M1237.6 391.9h0M1237.8 394.7h0M1238.1 394.6h0M1238.3 397.0h0M1238.6 398.1h0M1238.9 400.8h0M1239.1 404.2h0M1239.4 405.6h0M1239.6 409.9h0M1239.9 411.6h0M1240.2 414.3h0M1240.4 416.1h0M1240.7 417.4h0M1240.9 420.0h0M1241.2 425.3h0M1241.4 430.3h0M1241.7 435.2h0M1242.0 442.9h0M1242.2 449.6h0M1242.5 457.3h0M1242.7 463.8h0M1243.0 471.9h0M1243.2 481.3h0M1243.5 491.4h0M1243.8 500.8h0M1244.0 510.2h0M1244.3 520.4h0M1244.5 530.3h0M1244.8 539.5h0M1245.0 548.6h0M1245.3 558.0h0M1245.6 564.3h0M1245.8 558.4h0M1246.1 552.4h0M1246.3 546.6h0M1246.6 541.3h0M1246.8 534.9h0M1247.1 525.3h0M1247.4 512.7h0M1247.6 500.5h0M1247.9 487.7h0M1248.1 477.6h0M1248.4 464.0h0M1248.7 453.0h0M1248.9 442.5h0M1249.2 434.0h0M1249.4 424.6h0M1249.7 413.8h0M1249.9 404.1h0M1250.2 392.7h0M1250.5 382.6h0M1250.7 372.2h0M1251.0 361.6h0M1251.2 365.7h0M1251.5 372.7h0M1251.7 379.0h0M1252.0 387.7h0M1252.3 394.3h0M1252.5 401.3h0M1252.8 407.7h0M1253.0 415.1h0M1253.3 420.1h0M1253.5 427.5h0M1253.8 433.0h0M1254.1 437.9h0M1254.3 444.3h0M1254.6 450.8h0M1254.8 456.4h0M1255.1 460.8h0M1255.4 466.6h0M1255.6 474.0h0M1255.9 478.5h0M1256.1 483.6h0M1256.4 489.1h0M1256.6 492.8h0M1256.9 496.7h0M1257.2 492.2h0M1257.4 485.0h0M1257.7 475.2h0M1257.9 468.0h0M1258.2 458.4h0M1258.4 451.4h0M1258.7 436.3h0M1259.0 418.0h0M1259.2 400.6h0M1259.5 382.3h0M1259.7 365.4h0M1260.0 346.9h0M1260.2 329.8h0M1260.5 313.2h0M1260.8 308.2h0M1261.0 310.9h0M1261.3 312.7h0M1261.5 315.1h0M1261.8 318.6h0M1262.1 321.5h0M1262.3 322.8h0M1262.6 324.9h0M1262.8 324.7h0M1263.1 325.7h0M1263.3 325.7h0M1263.6 327.0h0M1263.9 328.9h0M1264.1 329.4h0M1264.4 331.3h0M1264.6 332.8h0M1264.9 335.0h0M1265.1 335.8h0M1265.4 338.4h0M1265.7 339.9h0M1265.9 341.4h0M1266.2 342.0h0M1266.4 340.9h0M1266.7 340.4h0M1266.9 341.0h0M1267.2 342.6h0M1267.5 341.9h0M1267.7 342.7h0M1268.0 343.9h0M1268.2 345.2h0M1268.5 347.5h0M1268.8 347.6h0M1269.0 348.3h0M1269.3 349.7h0M1269.5 349.7h0M1269.8 349.7h0M1270.0 349.0h0M1270.3 349.7h0M1270.6 352.5h0M1270.8 355.2h0M1271.1 356.0h0M1271.3 358.2h0M1271.6 358.6h0M1271.8 363.6h0M1272.1 364.2h0M1272.4 364.7h0M1272.6 366.9h0M1272.9 367.6h0M1273.1 369.4h0M1273.4 371.5h0M1273.6 371.1h0M1273.9 373.4h0M1274.2 374.3h0M1274.4 375.1h0M1274.7 376.7h0M1274.9 378.3h0M1275.2 378.2h0M1275.5 378.1h0M1275.7 378.7h0M1276.0 378.4h0M1276.2 373.9h0M1276.5 367.7h0M1276.7 362.9h0M1277.0 358.9h0M1277.3 353.3h0M1277.5 349.5h0M1277.8 344.6h0M1278.0 340.4h0M1278.3 336.9h0M1278.5 335.7h0M1278.8 331.0h0M1279.1 327.1h0M1279.3 323.1h0M1279.6 317.8h0M1279.8 314.1h0M1280.1 310.8h0M1280.3 306.7h0M1280.6 304.1h0M1280.9 302.3h0M1281.1 298.1h0M1281.4 296.7h0M1281.6 294.8h0M1281.9 292.1h0M1282.1 289.2h0M1282.4 285.6h0M1282.7 283.5h0M1282.9 278.4h0M1283.2 277.3h0M1283.4 273.6h0M1283.7 271.8h0M1284.0 270.1h0M1284.2 269.5h0M1284.5 266.4h0M1284.7 264.2h0M1285.0 263.6h0M1285.2 260.5h0M1285.5 257.9h0M1285.8 255.5h0M1286.0 253.1h0M1286.3 250.1h0M1286.5 246.4h0M1286.8 245.7h0M1287.0 244.4h0M1287.3 243.6h0M1287.6 243.7h0M1287.8 244.5h0M1288.1 243.8h0M1288.3 242.4h0M1288.6 242.3h0M1288.8 240.8h0M1289.1 238.8h0M1289.4 238.3h0M1289.6 236.9h0M1289.9 236.6h0M1290.1 239.6h0M1290.4 243.4h0M1290.7 248.1h0M1290.9 253.7h0M1291.2 257.3h0M1291.4 261.8h0M1291.7 265.6h0M1291.9 269.3h0M1292.2 277.9h0M1292.5 287.2h0M1292.7 297.0h0M1293.0 307.4h0M1293.2 319.0h0M1293.5 329.6h0M1293.7 338.3h0M1294.0 348.2h0M1294.3 356.9h0M1294.5 364.5h0M1294.8 374.4h0M1295.0 382.7h0M1295.3 384.1h0M1295.5 385.7h0M1295.8 390.6h0M1296.1 393.4h0M1296.3 396.5h0M1296.6 399.2h0M1296.8 404.3h0M1297.1 408.2h0M1297.4 412.1h0M1297.6 415.7h0M1297.9 419.9h0M1298.1 421.8h0M1298.4 424.3h0M1298.6 424.9h0M1298.9 427.5h0M1299.2 430.4h0M1299.4 432.4h0M1299.7 435.9h0M1299.9 438.9h0M1300.2 442.2h0M1300.4 445.0h0M1300.7 448.5h0M1301.0 450.0h0M1301.2 452.9h0M1301.5 456.1h0M1301.7 457.0h0M1302.0 460.1h0M1302.2 461.6h0M1302.5 463.7h0M1302.8 466.7h0M1303.0 470.6h0M1303.3 472.6h0M1303.5 475.3h0M1303.8 479.3h0M1304.1 482.1h0M1304.3 484.7h0M1304.6 485.5h0M1304.8 488.6h0M1305.1 490.5h0M1305.3 492.7h0M1305.6 495.2h0M1305.9 498.7h0M1306.1 501.6h0M1306.4 505.0h0M1306.6 509.7h0M1306.9 501.4h0M1307.1 489.3h0M1307.4 477.8h0M1307.7 465.9h0M1307.9 453.2h0M1308.2 438.8h0M1308.4 421.6h0M1308.7 402.5h0M1308.9 386.2h0M1309.2 368.2h0M1309.5 351.6h0M1309.7 340.1h0M1310.0 331.2h0M1310.2 321.9h0M1310.5 311.6h0M1310.8 300.5h0M1311.0 289.5h0M1311.3 291.2h0M1311.5 292.4h0M1311.8 291.8h0M1312.0 293.7h0M1312.3 295.0h0M1312.6 296.4h0M1312.8 298.1h0M1313.1 300.6h0M1313.3 304.3h0M1313.6 307.2h0M1313.8 309.7h0M1314.1 312.6h0M1314.4 313.5h0M1314.6 315.1h0M1314.9 317.2h0M1315.1 320.4h0M1315.4 322.4h0M1315.6 324.6h0M1315.9 329.2h0M1316.2 332.4h0M1316.4 334.3h0M1316.7 337.1h0M1316.9 338.1h0M1317.2 340.1h0M1317.5 342.7h0M1317.7 344.3h0M1318.0 345.6h0M1318.2 347.3h0M1318.5 349.1h0M1318.7 352.6h0M1319.0 353.8h0M1319.3 360.6h0M1319.5 367.7h0M1319.8 372.7h0M1320.0 379.4h0M1320.3 384.9h0M1320.5 390.8h0M1320.8 394.2h0M1321.1 400.8h0M1321.3 406.4h0M1321.6 413.6h0M1321.8 419.3h0M1322.1 425.7h0M1322.3 433.4h0M1322.6 435.1h0M1322.9 429.5h0M1323.1 423.5h0M1323.4 417.0h0M1323.6 409.6h0M1323.9 403.3h0M1324.1 397.0h0M1324.4 391.4h0M1324.7 385.8h0M1324.9 380.4h0M1325.2 375.1h0M1325.4 370.6h0M1325.7 365.5h0M1326.0 361.0h0M1326.2 360.5h0M1326.5 358.9h0M1326.7 357.8h0M1327.0 355.8h0M1327.2 353.4h0M1327.5 352.4h0M1327.8 352.0h0M1328.0 349.5h0M1328.3 348.1h0M1328.5 349.4h0M1328.8 350.9h0M1329.0 353.0h0M1329.3 354.5h0M1329.6 356.3h0M1329.8 359.1h0M1330.1 360.3h0M1330.3 361.3h0M1330.6 362.7h0M1330.8 363.0h0M1331.1 363.9h0M1331.4 363.5h0M1331.6 363.8h0M1331.9 364.5h0M1332.1 366.3h0M1332.4 366.8h0M1332.7 366.3h0M1332.9 367.0h0M1333.2 367.2h0M1333.4 366.3h0M1333.7 366.8h0M1333.9 365.4h0M1334.2 365.4h0M1334.5 365.3h0M1334.7 364.7h0M1335.0 365.2h0M1335.2 367.3h0M1335.5 370.3h0M1335.7 371.5h0M1336.0 372.8h0M1336.3 373.2h0M1336.5 374.1h0M1336.8 375.0h0M1337.0 375.6h0M1337.3 375.2h0M1337.5 376.5h0M1337.8 377.5h0M1338.1 380.5h0M1338.3 382.5h0M1338.6 385.5h0M1338.8 389.6h0M1339.1 391.8h0M1339.4 395.3h0M1339.6 396.5h0M1339.9 400.3h0M1340.1 401.1h0M1340.4 403.2h0M1340.6 405.2h0M1340.9 407.7h0M1341.2 410.5h0M1341.4 413.3h0M1341.7 417.4h0M1341.9 418.5h0M1342.2 422.1h0M1342.4 425.4h0M1342.7 428.0h0M1343.0 431.2h0M1343.2 432.7h0M1343.5 434.3h0M1343.7 435.9h0M1344.0 439.9h0M1344.2 441.4h0M1344.5 444.9h0M1344.8 445.2h0M1345.0 449.8h0M1345.3 451.4h0M1345.5 453.4h0M1345.8 456.2h0M1346.1 458.1h0M1346.3 459.5h0M1346.6 460.3h0M1346.8 462.6h0M1347.1 464.1h0M1347.3 468.1h0M1347.6 470.7h0M1347.9 475.3h0M1348.1 478.7h0M1348.4 483.3h0M1348.6 485.9h0M1348.9 489.0h0M1349.1 491.3h0M1349.4 493.8h0M1349.7 497.4h0M1349.9 495.5h0M1350.2 497.4h0M1350.4 500.5h0M1350.7 501.9h0M1350.9 504.6h0M1351.2 502.9h0M1351.5 501.1h0M1351.7 498.7h0M1352.0 495.7h0M1352.2 493.9h0M1352.5 490.3h0M1352.8 488.2h0M1353.0 483.0h0M1353.3 480.3h0M1353.5 478.5h0M1353.8 476.0h0M1354.0 474.8h0M1354.3 471.1h0M1354.6 469.9h0M1354.8 466.5h0M1355.1 467.8h0M1355.3 466.2h0M1355.6 469.8h0M1355.8 469.5h0M1356.1 469.3h0M1356.4 470.8h0M1356.6 472.5h0M1356.9 473.0h0M1357.1 474.5h0M1357.4 477.7h0M1357.6 480.3h0M1357.9 483.6h0M1358.2 486.2h0M1358.4 487.9h0M1358.7 489.8h0M1358.9 492.1h0M1359.2 491.7h0M1359.4 490.8h0M1359.7 489.0h0M1360.0 488.9h0M1360.2 487.8h0M1360.5 488.4h0M1360.7 488.2h0M1361.0 488.0h0M1361.3 489.3h0M1361.5 492.8h0M1361.8 493.2h0M1362.0 494.7h0M1362.3 496.0h0M1362.5 497.3h0M1362.8 497.7h0M1363.1 499.7h0M1363.3 504.2h0M1363.6 511.0h0M1363.8 515.6h0M1364.1 521.4h0M1364.3 526.2h0M1364.6 533.7h0M1364.9 542.5h0M1365.1 550.2h0M1365.4 556.3h0M1365.6 556.5h0M1365.9 549.4h0M1366.1 540.8h0M1366.4 534.3h0M1366.7 528.2h0M1366.9 521.9h0M1367.2 515.8h0M1367.4 512.3h0M1367.7 509.9h0M1368.0 505.0h0M1368.2 501.1h0M1368.5 495.6h0M1368.7 492.2h0M1369.0 486.9h0M1369.2 482.6h0M1369.5 476.6h0M1369.8 472.5h0M1370.0 468.0h0M1370.3 464.6h0M1370.5 461.3h0M1370.8 458.9h0M1371.0 454.7h0M1371.3 451.5h0M1371.6 447.1h0M1371.8 443.4h0M1372.1 439.6h0M1372.3 436.5h0M1372.6 433.5h0M1372.8 430.1h0M1373.1 428.1h0M1373.4 425.4h0M1373.6 423.0h0M1373.9 420.8h0M1374.1 419.4h0M1374.4 417.3h0M1374.7 415.5h0M1374.9 411.3h0M1375.2 409.4h0M1375.4 404.4h0M1375.7 402.2h0M1375.9 400.8h0M1376.2 396.5h0M1376.5 393.9h0M1376.7 391.8h0M1377.0 391.7h0M1377.2 390.3h0M1377.5 388.4h0M1377.7 387.4h0M1378.0 384.7h0M1378.3 384.4h0M1378.5 383.7h0M1378.8 379.8h0M1379.0 380.0h0M1379.3 378.4h0M1379.5 377.9h0M1379.8 375.9h0M1380.1 376.4h0M1380.3 379.1h0M1380.6 380.5h0M1380.8 382.2h0M1381.1 383.0h0M1381.4 384.1h0M1381.6 384.8h0M1381.9 386.1h0M1382.1 387.0h0M1382.4 388.0h0M1382.6 388.0h0M1382.9 389.6h0M1383.2 391.9h0M1383.4 394.1h0M1383.7 394.3h0M1383.9 395.8h0M1384.2 397.0h0M1384.4 398.3h0M1384.7 397.8h0M1385.0 395.7h0M1385.2 394.2h0M1385.5 392.6h0M1385.7 392.5h0M1386.0 391.6h0M1386.2 391.6h0M1386.5 390.8h0M1386.8 391.9h0M1387.0 390.7h0M1387.3 389.8h0M1387.5 390.2h0M1387.8 388.8h0M1388.1 388.9h0M1388.3 388.4h0M1388.6 387.1h0M1388.8 386.1h0M1389.1 385.4h0M1389.3 385.6h0M1389.6 387.4h0M1389.9 387.0h0M1390.1 385.9h0M1390.4 385.9h0M1390.6 386.5h0M1390.9 387.7h0M1391.1 388.8h0M1391.4 390.1h0M1391.7 390.1h0M1391.9 391.6h0M1392.2 394.2h0M1392.4 395.7h0M1392.7 397.4h0M1392.9 399.7h0M1393.2 402.6h0M1393.5 404.7h0M1393.7 406.2h0M1394.0 407.6h0M1394.2 410.3h0M1394.5 410.4h0M1394.8 413.8h0M1395.0 413.1h0M1395.3 408.8h0M1395.5 405.4h0M1395.8 401.5h0M1396.0 396.7h0M1396.3 391.2h0M1396.6 388.7h0M1396.8 383.2h0M1397.1 379.9h0M1397.3 377.0h0M1397.6 373.1h0M1397.8 368.7h0M1398.1 364.9h0M1398.4 361.4h0M1398.6 357.5h0M1398.9 354.4h0M1399.1 352.5h0M1399.4 349.3h0M1399.6 347.8h0M1399.9 349.1h0M1400.2 350.7h0M1400.4 352.2h0M1400.7 353.2h0M1400.9 354.7h0M1401.2 355.0h0M1401.4 355.4h0M1401.7 356.8h0M1402.0 358.2h0M1402.2 360.5h0M1402.5 361.7h0M1402.7 363.1h0M1403.0 365.9h0M1403.3 367.7h0M1403.5 366.9h0M1403.8 369.2h0M1404.0 369.3h0M1404.3 368.0h0M1404.5 367.8h0M1404.8 368.0h0M1405.1 369.6h0M1405.3 368.8h0M1405.6 370.2h0M1405.8 369.6h0M1406.1 371.2h0M1406.3 371.4h0M1406.6 370.6h0M1406.9 370.5h0M1407.1 371.3h0M1407.4 370.7h0M1407.6 372.4h0M1407.9 372.6h0M1408.1 374.5h0M1408.4 376.3h0M1408.7 378.2h0M1408.9 379.9h0M1409.2 382.3h0M1409.4 385.1h0M1409.7 387.6h0M1410.0 390.2h0M1410.2 392.5h0M1410.5 394.4h0M1410.7 396.8h0M1411.0 398.4h0M1411.2 400.3h0M1411.5 404.3h0M1411.8 406.4h0M1412.0 408.9h0M1412.3 412.6h0M1412.5 416.0h0M1412.8 418.9h0M1413.0 421.7h0M1413.3 425.0h0M1413.6 425.1h0M1413.8 428.8h0M1414.1 430.0h0M1414.3 432.0h0M1414.6 433.4h0M1414.8 437.4h0M1415.1 440.8h0M1415.4 442.6h0M1415.6 445.0h0M1415.9 447.6h0M1416.1 450.8h0M1416.4 452.6h0M1416.7 455.3h0M1416.9 455.6h0M1417.2 457.9h0M1417.4 458.4h0M1417.7 461.0h0M1417.9 464.1h0M1418.2 465.8h0M1418.5 469.0h0M1418.7 470.7h0M1419.0 473.5h0M1419.2 476.1h0M1419.5 477.8h0M1419.7 480.0h0M1420.0 482.8h0M1420.3 483.3h0M1420.5 485.2h0M1420.8 487.9h0M1421.0 488.9h0M1421.3 489.6h0M1421.5 490.5h0M1421.8 492.5h0M1422.1 493.5h0M1422.3 495.0h0M1422.6 495.6h0M1422.8 493.7h0M1423.1 495.1h0M1423.4 495.8h0M1423.6 494.7h0M1423.9 494.8h0M1424.1 494.4h0M1424.4 496.4h0M1424.6 496.1h0M1424.9 497.9h0M1425.2 498.0h0M1425.4 498.2h0M1425.7 497.2h0M1425.9 496.4h0M1426.2 496.1h0M1426.4 494.3h0M1426.7 493.5h0M1427.0 491.4h0M1427.2 491.8h0M1427.5 490.6h0M1427.7 490.7h0M1428.0 490.3h0M1428.2 487.0h0M1428.5 484.3h0M1428.8 484.2h0M1429.0 480.7h0M1429.3 477.9h0M1429.5 474.5h0M1429.8 471.5h0M1430.1 468.1h0M1430.3 461.2h0M1430.6 453.5h0M1430.8 445.8h0M1431.1 441.0h0M1431.3 434.6h0M1431.6 427.1h0M1431.9 418.5h0M1432.1 410.0h0M1432.4 402.8h0M1432.6 392.6h0M1432.9 384.6h0M1433.1 374.5h0M1433.4 366.2h0M1433.7 356.3h0M1433.9 347.6h0M1434.2 340.1h0M1434.4 331.1h0M1434.7 326.6h0M1434.9 324.1h0M1435.2 320.9h0M1435.5 315.9h0M1435.7 310.3h0M1436.0 306.0h0M1436.2 305.5h0M1436.5 304.4h0M1436.7 305.3h0M1437.0 304.6h0M1437.3 303.2h0M1437.5 304.8h0M1437.8 303.3h0M1438.0 303.5h0M1438.3 304.9h0M1438.6 303.2h0M1438.8 302.9h0M1439.1 303.5h0M1439.3 301.7h0M1439.6 302.2h0M1439.8 301.4h0M1440.1 300.5h0M1440.4 301.4h0M1440.6 302.1h0M1440.9 302.5h0M1441.1 302.0h0M1441.4 303.6h0M1441.6 301.8h0M1441.9 302.9h0M1442.2 302.9h0M1442.4 303.2h0M1442.7 303.1h0M1442.9 301.2h0M1443.2 301.7h0M1443.4 302.2h0M1443.7 302.6h0M1444.0 303.9h0M1444.2 304.9h0M1444.5 305.6h0M1444.7 305.5h0M1445.0 307.9h0M1445.3 305.2h0M1445.5 305.5h0M1445.8 306.2h0M1446.0 305.4h0M1446.3 305.2h0M1446.5 306.2h0M1446.8 309.2h0M1447.1 313.6h0M1447.3 318.6h0M1447.6 323.2h0M1447.8 325.6h0M1448.1 329.9h0M1448.3 333.8h0M1448.6 338.6h0M1448.9 342.8h0M1449.1 349.5h0M1449.4 354.1h0M1449.6 360.7h0M1449.9 366.5h0M1450.1 373.6h0M1450.4 378.7h0M1450.7 386.3h0M1450.9 392.3h0M1451.2 398.3h0M1451.4 405.3h0M1451.7 407.9h0M1452.0 411.8h0M1452.2 413.6h0M1452.5 416.4h0M1452.7 420.6h0M1453.0 424.9h0M1453.2 426.0h0M1453.5 427.3h0M1453.8 430.4h0M1454.0 432.3h0M1454.3 434.2h0M1454.5 436.5h0M1454.8 438.3h0M1455.0 439.7h0M1455.3 439.7h0M1455.6 442.5h0M1455.8 442.6h0M1456.1 442.9h0M1456.3 443.9h0M1456.6 445.2h0M1456.8 445.5h0M1457.1 447.1h0M1457.4 447.2h0M1457.6 449.0h0M1457.9 448.7h0M1458.1 448.5h0M1458.4 449.0h0M1458.7 447.6h0M1458.9 447.9h0M1459.2 447.4h0M1459.4 446.1h0M1459.7 445.1h0M1459.9 444.9h0M1460.2 443.5h0M1460.5 443.2h0M1460.7 441.9h0M1461.0 441.3h0M1461.2 434.1h0M1461.5 426.8h0M1461.7 420.0h0M1462.0 412.0h0M1462.3 405.8h0M1462.5 399.0h0M1462.8 393.8h0M1463.0 389.2h0M1463.3 384.5h0M1463.5 378.7h0M1463.8 374.2h0M1464.1 371.1h0M1464.3 368.8h0M1464.6 367.4h0M1464.8 365.9h0M1465.1 366.9h0M1465.4 371.3h0M1465.6 378.0h0M1465.9 384.6h0M1466.1 390.6h0M1466.4 397.9h0M1466.6 404.7h0M1466.9 414.8h0M1467.2 424.3h0M1467.4 432.0h0M1467.7 440.5h0M1467.9 448.6h0M1468.2 454.6h0M1468.4 463.6h0M1468.7 472.9h0M1469.0 480.0h0M1469.2 489.7h0M1469.5 498.9h0M1469.7 508.5h0M1470.0 516.9h0M1470.2 526.5h0M1470.5 534.7h0M1470.8 544.0h0M1471.0 550.6h0M1471.3 555.3h0M1471.5 560.4h0M1471.8 565.8h0M1472.1 569.9h0M1472.3 575.0h0M1472.6 580.2h0M1472.8 586.9h0M1473.1 590.6h0M1473.3 593.3h0M1473.6 595.5h0M1473.9 598.2h0M1474.1 598.6h0M1474.4 600.0h0M1474.6 602.0h0M1474.9 603.3h0M1475.1 600.6h0M1475.4 596.6h0M1475.7 592.7h0M1475.9 589.3h0M1476.2 585.1h0M1476.4 583.1h0M1476.7 576.2h0M1476.9 570.0h0M1477.2 562.4h0M1477.5 555.0h0M1477.7 547.9h0M1478.0 539.8h0M1478.2 530.6h0M1478.5 523.9h0M1478.7 515.4h0M1479.0 509.1h0M1479.3 500.4h0M1479.5 488.2h0M1479.8 474.3h0M1480.0 459.8h0M1480.3 447.3h0M1480.6 437.4h0M1480.8 427.4h0M1481.1 419.2h0M1481.3 416.7h0M1481.6 414.4h0M1481.8 411.2h0M1482.1 411.7h0M1482.4 409.9h0M1482.6 407.4h0M1482.9 406.2h0M1483.1 403.9h0M1483.4 401.5h0M1483.6 400.8h0M1483.9 399.7h0M1484.2 396.2h0M1484.4 393.8h0M1484.7 391.4h0M1484.9 389.6h0M1485.2 387.0h0M1485.4 384.4h0M1485.7 382.6h0M1486.0 381.4h0M1486.2 378.6h0M1486.5 375.2h0M1486.7 374.0h0M1487.0 370.9h0M1487.3 366.7h0M1487.5 361.1h0M1487.8 356.2h0M1488.0 351.6h0M1488.3 347.0h0M1488.5 343.7h0M1488.8 339.5h0M1489.1 335.5h0M1489.3 332.2h0M1489.6 328.4h0M1489.8 324.2h0M1490.1 320.9h0M1490.3 320.3h0M1490.6 317.2h0M1490.9 316.6h0M1491.1 314.4h0M1491.4 313.4h0M1491.6 313.0h0M1491.9 311.4h0M1492.1 316.2h0M1492.4 324.5h0M1492.7 330.8h0M1492.9 338.4h0M1493.2 347.9h0M1493.4 358.0h0M1493.7 368.2h0M1494.0 376.7h0M1494.2 385.1h0M1494.5 390.9h0M1494.7 397.4h0M1495.0 402.7h0M1495.2 406.3h0M1495.5 407.5h0M1495.8 410.2h0M1496.0 411.2h0M1496.3 412.2h0M1496.5 412.9h0M1496.8 414.0h0M1497.0 415.3h0M1497.3 414.7h0M1497.6 416.2h0M1497.8 417.8h0M1498.1 419.4h0M1498.3 421.0h0M1498.6 423.3h0M1498.8 425.0h0M1499.1 425.5h0M1499.4 429.2h0M1499.6 429.1h0M1499.9 431.9h0M1500.1 432.7h0M1500.4 432.3h0M1500.7 434.7h0M1500.9 437.0h0M1501.2 440.2h0M1501.4 443.7h0M1501.7 447.5h0M1501.9 453.1h0M1502.2 455.7h0M1502.5 459.6h0M1502.7 470.1h0M1503.0 478.8h0M1503.2 489.6h0M1503.5 498.3h0M1503.7 508.4h0M1504.0 519.5h0M1504.3 527.4h0M1504.5 536.8h0M1504.8 545.4h0M1505.0 554.4h0M1505.3 563.4h0M1505.5 571.8h0M1505.8 579.5h0M1506.1 586.2h0M1506.3 593.3h0M1506.6 598.7h0M1506.8 604.7h0M1507.1 611.1h0M1507.4 616.7h0M1507.6 620.3h0M1507.9 627.8h0M1508.1 632.0h0M1508.4 637.8h0M1508.6 644.4h0M1508.9 647.1h0M1509.2 649.4h0M1509.4 653.3h0M1509.7 656.5h0M1509.9 658.9h0M1510.2 660.6h0M1510.4 661.2h0M1510.7 662.7h0M1511.0 663.4h0M1511.2 661.5h0M1511.5 659.6h0M1511.7 656.0h0M1512.0 654.2h0M1512.2 650.5h0M1512.5 647.7h0M1512.8 643.8h0M1513.0 639.1h0M1513.3 632.0h0M1513.5 627.3h0M1513.8 623.0h0M1514.0 619.3h0M1514.3 613.4h0M1514.6 609.2h0M1514.8 604.2h0M1515.1 597.9h0M1515.3 594.8h0M1515.6 588.9h0M1515.9 582.6h0M1516.1 578.2h0M1516.4 572.0h0M1516.6 568.2h0M1516.9 559.8h0M1517.1 555.6h0M1517.4 551.4h0M1517.7 546.5h0M1517.9 542.6h0M1518.2 538.0h0M1518.4 532.9h0M1518.7 527.4h0M1518.9 521.4h0M1519.2 517.3h0M1519.5 513.2h0M1519.7 508.4h0M1520.0 502.9h0M1520.2 501.3h0M1520.5 496.5h0M1520.7 493.9h0M1521.0 489.9h0M1521.3 488.1h0M1521.5 484.4h0M1521.8 482.3h0M1522.0 478.8h0M1522.3 473.9h0M1522.6 468.7h0M1522.8 466.9h0M1523.1 462.5h0M1523.3 460.3h0M1523.6 456.9h0M1523.8 453.7h0M1524.1 450.7h0M1524.4 448.1h0M1524.6 446.7h0M1524.9 443.4h0M1525.1 439.2h0M1525.4 435.7h0M1525.6 432.1h0M1525.9 427.4h0M1526.2 422.5h0M1526.4 420.9h0M1526.7 416.3h0M1526.9 413.1h0M1527.2 410.6h0M1527.4 407.1h0M1527.7 404.1h0M1528.0 401.8h0M1528.2 397.0h0M1528.5 393.2h0M1528.7 388.3h0M1529.0 384.4h0M1529.3 378.2h0M1529.5 373.8h0M1529.8 369.0h0M1530.0 366.0h0M1530.3 361.8h0M1530.5 358.0h0M1530.8 355.2h0M1531.1 350.7h0M1531.3 348.4h0M1531.6 344.9h0M1531.8 341.8h0M1532.1 339.6h0M1532.3 337.0h0M1532.6 333.4h0M1532.9 330.9h0M1533.1 329.6h0M1533.4 326.8h0M1533.6 324.9h0M1533.9 323.3h0M1534.1 321.8h0M1534.4 322.4h0M1534.7 321.8h0M1534.9 320.4h0M1535.2 319.3h0M1535.4 315.7h0M1535.7 316.1h0M1536.0 314.3h0M1536.2 314.3h0M1536.5 312.5h0M1536.7 313.0h0M1537.0 313.3h0M1537.2 312.6h0M1537.5 312.0h0M1537.8 311.4h0M1538.0 311.0h0M1538.3 309.5h0M1538.5 307.7h0M1538.8 307.6h0M1539.0 307.2h0M1539.3 305.7h0M1539.6 305.7h0M1539.8 305.6h0M1540.1 304.8h0M1540.3 304.4h0M1540.6 303.6h0M1540.8 303.6h0M1541.1 302.8h0M1541.4 300.7h0M1541.6 299.7h0M1541.9 299.0h0M1542.1 296.6h0M1542.4 296.3h0M1542.7 295.3h0M1542.9 294.3h0M1543.2 292.4h0M1543.4 288.3h0M1543.7 283.9h0M1543.9 279.8h0M1544.2 275.5h0M1544.5 270.8h0M1544.7 265.8h0M1545.0 260.8h0M1545.2 254.7h0M1545.5 250.6h0M1545.7 244.7h0M1546.0 239.9h0M1546.3 236.4h0M1546.5 231.9h0M1546.8 225.8h0M1547.0 222.6h0M1547.3 219.1h0M1547.5 214.7h0M1547.8 208.8h0M1548.1 204.7h0M1548.3 200.0h0M1548.6 196.2h0M1548.8 192.0h0M1549.1 187.6h0M1549.4 183.4h0M1549.6 179.2h0M1549.9 176.6h0M1550.1 170.9h0M1550.4 168.5h0M1550.6 166.0h0M1550.9 164.4h0M1551.2 162.6h0M1551.4 161.0h0M1551.7 159.7h0M1551.9 157.5h0M1552.2 157.2h0M1552.4 156.3h0M1552.7 158.1h0M1553.0 158.4h0M1553.2 161.0h0M1553.5 163.4h0M1553.7 164.5h0M1554.0 166.5h0M1554.2 169.0h0M1554.5 174.6h0M1554.8 178.3h0M1555.0 182.0h0M1555.3 185.9h0M1555.5 190.1h0M1555.8 195.0h0M1556.0 200.8h0M1556.3 208.7h0M1556.6 216.5h0M1556.8 223.6h0M1557.1 230.6h0M1557.3 237.1h0M1557.6 241.5h0M1557.9 245.3h0M1558.1 250.0h0M1558.4 252.9h0M1558.6 258.3h0M1558.9 262.3h0M1559.1 262.1h0M1559.4 260.5h0M1559.7 257.7h0M1559.9 254.2h0M1560.2 250.1h0M1560.4 248.3h0M1560.7 244.7h0M1560.9 241.1h0M1561.2 236.8h0M1561.5 232.1h0M1561.7 227.8h0M1562.0 225.3h0M1562.2 222.7h0M1562.5 219.1h0M1562.7 215.4h0M1563.0 212.0h0M1563.3 208.7h0M1563.5 207.5h0M1563.8 204.4h0M1564.0 199.5h0M1564.3 197.0h0M1564.6 194.9h0M1564.8 189.7h0M1565.1 189.5h0M1565.3 188.6h0M1565.6 187.9h0M1565.8 187.3h0M1566.1 186.8h0M1566.4 186.1h0M1566.6 185.7h0M1566.9 182.8h0M1567.1 180.7h0M1567.4 178.7h0M1567.6 178.2h0M1567.9 177.0h0M1568.2 174.6h0M1568.4 174.2h0M1568.7 173.3h0M1568.9 173.2h0M1569.2 171.0h0M1569.4 168.4h0M1569.7 165.1h0M1570.0 162.3h0M1570.2 159.8h0M1570.5 155.9h0M1570.7 153.2h0M1571.0 148.7h0M1571.3 146.3h0M1571.5 142.5h0M1571.8 140.0h0M1572.0 136.0h0M1572.3 134.8h0M1572.5 131.2h0M1572.8 129.4h0M1573.1 126.1h0M1573.3 122.4h0M1573.6 120.5h0M1573.8 117.4h0M1574.1 114.4h0M1574.3 111.2h0M1574.6 107.6h0M1574.9 106.4h0M1575.1 103.6h0M1575.4 104.3h0M1575.6 104.7h0M1575.9 103.4h0M1576.1 104.7h0M1576.4 103.6h0M1576.7 102.2h0M1576.9 99.9h0M1577.2 99.7h0M1577.4 99.6h0M1577.7 98.9h0M1578.0 97.6h0M1578.2 98.3h0M1578.5 100.4h0M1578.7 101.0h0M1579.0 102.0h0M1579.2 104.8h0M1579.5 104.7h0M1579.8 105.3h0M1580.0 105.3h0M1580.3 108.6h0M1580.5 111.3h0M1580.8 113.6h0M1581.0 116.7h0M1581.3 120.2h0M1581.6 124.7h0M1581.8 128.1h0M1582.1 131.2h0M1582.3 136.9h0M1582.6 140.1h0M1582.8 144.0h0M1583.1 147.9h0M1583.4 150.6h0M1583.6 154.1h0M1583.9 157.1h0M1584.1 161.2h0M1584.4 165.5h0M1584.7 169.5h0M1584.9 173.6h0M1585.2 178.0h0M1585.4 182.3h0M1585.7 186.6h0M1585.9 189.9h0M1586.2 193.5h0M1586.5 195.6h0M1586.7 199.1h0M1587.0 201.3h0M1587.2 203.8h0M1587.5 207.7h0M1587.7 210.4h0M1588.0 216.6h0M1588.3 217.6h0M1588.5 221.0h0M1588.8 224.8h0M1589.0 226.2h0M1589.3 228.3h0M1589.5 230.3h0M1589.8 233.5h0M1590.1 233.9h0M1590.3 236.3h0M1590.6 236.7h0M1590.8 237.7h0M1591.1 240.0h0M1591.3 241.0h0M1591.6 242.4h0M1591.9 238.2h0M1592.1 234.2h0M1592.4 230.9h0M1592.6 225.1h0M1592.9 220.8h0M1593.2 214.4h0M1593.4 208.0h0M1593.7 200.2h0M1593.9 194.1h0M1594.2 189.2h0M1594.4 181.4h0M1594.7 177.5h0M1595.0 171.9h0M1595.2 166.2h0M1595.5 161.3h0M1595.7 155.8h0M1596.0 150.8h0M1596.2 148.6h0M1596.5 146.2h0M1596.8 144.0h0M1597.0 142.4h0M1597.3 143.7h0M1597.5 144.7h0M1597.8 146.1h0M1598.0 149.3h0M1598.3 149.5h0M1598.6 149.2h0M1598.8 150.4h0M1599.1 151.0h0M1599.3 151.2h0M1599.6 151.3h0M1599.9 152.5h0M1600.1 153.3h0M1600.4 154.7h0M1600.6 156.5h0M1600.9 157.1h0M1601.1 159.1h0M1601.4 160.1h0M1601.7 160.9h0M1601.9 161.9h0M1602.2 162.9h0M1602.4 162.8h0M1602.7 162.9h0M1602.9 163.4h0M1603.2 165.4h0M1603.5 168.1h0M1603.7 170.3h0M1604.0 171.1h0M1604.2 174.3h0M1604.5 177.3h0M1604.7 179.0h0M1605.0 181.1h0M1605.3 181.7h0M1605.5 183.1h0M1605.8 183.6h0M1606.0 183.9h0M1606.3 185.7h0M1606.6 187.2h0M1606.8 188.3h0M1607.1 188.9h0M1607.3 190.8h0M1607.6 192.2h0M1607.8 193.4h0M1608.1 194.1h0M1608.4 194.3h0M1608.6 193.7h0M1608.9 194.1h0M1609.1 193.6h0M1609.4 192.3h0M1609.6 191.7h0M1609.9 190.5h0M1610.2 191.1h0M1610.4 190.7h0M1610.7 190.9h0M1610.9 192.0h0M1611.2 188.4h0M1611.4 184.6h0M1611.7 179.9h0M1612.0 175.0h0M1612.2 171.1h0M1612.5 167.6h0M1612.7 163.9h0M1613.0 159.5h0M1613.3 157.0h0M1613.5 154.4h0M1613.8 151.1h0M1614.0 148.5h0M1614.3 145.7h0M1614.5 143.0h0M1614.8 138.9h0M1615.1 134.8h0M1615.3 124.8h0M1615.6 118.0h0M1615.8 109.0h0M1616.1 103.5h0M1616.3 101.6h0M1616.6 98.9h0M1616.9 96.5h0M1617.1 95.2h0M1617.4 91.9h0M1617.6 90.5h0M1617.9 87.4h0M1618.1 85.2h0M1618.4 82.6h0M1618.7 81.2h0M1618.9 79.3h0M1619.2 77.3h0M1619.4 76.1h0M1619.7 74.0h0M1620.0 74.5h0M1620.2 75.2h0M1620.5 77.5h0M1620.7 78.7h0M1621.0 80.4h0M1621.2 81.4h0M1621.5 83.4h0M1621.8 83.0h0M1622.0 84.0h0M1622.3 86.5h0M1622.5 88.3h0M1622.8 91.2h0M1623.0 95.0h0M1623.3 98.2h0M1623.6 101.6h0M1623.8 104.4h0M1624.1 106.3h0M1624.3 108.3h0M1624.6 111.3h0M1624.8 111.0h0M1625.1 114.0h0M1625.4 116.0h0M1625.6 118.3h0M1625.9 120.6h0M1626.1 122.4h0M1626.4 124.4h0M1626.7 123.9h0M1626.9 126.3h0M1627.2 128.0h0M1627.4 127.5h0M1627.7 129.2h0M1627.9 130.8h0M1628.2 128.6h0M1628.5 128.0h0M1628.7 126.4h0M1629.0 125.6h0M1629.2 124.6h0M1629.5 123.9h0M1629.7 123.5h0M1630.0 122.1h0M1630.3 123.3h0M1630.5 121.5h0M1630.8 120.2h0M1631.0 119.8h0M1631.3 117.4h0M1631.5 118.0h0M1631.8 117.0h0M1632.1 115.3h0M1632.3 113.4h0M1632.6 113.8h0M1632.8 113.5h0M1633.1 113.7h0M1633.3 115.9h0M1633.6 118.1h0M1633.9 119.1h0M1634.1 120.6h0M1634.4 121.6h0M1634.6 121.8h0M1634.9 123.4h0M1635.2 125.2h0M1635.4 128.9h0M1635.7 130.9h0M1635.9 134.1h0M1636.2 137.2h0M1636.4 140.2h0M1636.7 143.2h0M1637.0 145.7h0M1637.2 146.2h0M1637.5 148.8h0M1637.7 149.5h0M1638.0 150.8h0M1638.2 151.7h0M1638.5 153.3h0M1638.8 155.7h0M1639.0 157.6h0M1639.3 160.2h0M1639.5 162.6h0M1639.8 164.6h0M1640.0 166.7h0M1640.3 168.4h0M1640.6 170.4h0M1640.8 172.5h0M1641.1 173.5h0M1641.3 175.6h0M1641.6 177.2h0M1641.9 179.9h0M1642.1 181.2h0M1642.4 184.6h0M1642.6 187.7h0M1642.9 189.4h0M1643.1 194.1h0M1643.4 199.4h0M1643.7 204.0h0M1643.9 209.3h0M1644.2 213.5h0M1644.4 217.8h0M1644.7 223.2h0M1644.9 228.0h0M1645.2 235.3h0M1645.5 238.9h0M1645.7 246.3h0M1646.0 252.6h0M1646.2 258.8h0M1646.5 263.6h0M1646.7 270.5h0M1647.0 275.5h0M1647.3 281.5h0M1647.5 285.6h0M1647.8 292.6h0M1648.0 297.1h0M1648.3 302.7h0M1648.6 309.3h0M1648.8 314.6h0M1649.1 320.6h0M1649.3 325.3h0M1649.6 328.3h0M1649.8 331.7h0M1650.1 333.3h0M1650.4 336.5h0M1650.6 338.9h0M1650.9 343.6h0M1651.1 344.3h0M1651.4 346.1h0M1651.6 346.4h0M1651.9 348.7h0M1652.2 349.4h0M1652.4 351.0h0M1652.7 352.7h0M1652.9 353.9h0M1653.2 353.5h0M1653.4 355.3h0M1653.7 355.2h0M1654.0 355.8h0M1654.2 352.8h0M1654.5 349.1h0M1654.7 345.9h0M1655.0 343.5h0M1655.3 340.6h0M1655.5 338.1h0M1655.8 333.6h0M1656.0 330.5h0M1656.3 323.9h0M1656.5 317.0h0M1656.8 310.6h0M1657.1 303.7h0M1657.3 296.2h0M1657.6 289.6h0M1657.8 283.8h0M1658.1 278.1h0M1658.3 276.7h0M1658.6 273.9h0M1658.9 272.0h0M1659.1 270.5h0M1659.4 266.5h0M1659.6 264.1h0M1659.9 261.4h0M1660.1 261.3h0M1660.4 265.4h0M1660.7 269.7h0M1660.9 272.9h0M1661.2 276.2h0M1661.4 280.2h0M1661.7 285.4h0M1662.0 289.5h0M1662.2 293.4h0M1662.5 298.0h0M1662.7 301.3h0M1663.0 303.0h0M1663.2 306.6h0M1663.5 309.2h0M1663.8 313.2h0M1664.0 315.9h0M1664.3 312.8h0M1664.5 309.1h0M1664.8 306.5h0M1665.0 303.7h0M1665.3 300.3h0M1665.6 297.7h0M1665.8 292.6h0M1666.1 289.0h0M1666.3 278.1h0M1666.6 269.0h0M1666.8 259.8h0M1667.1 250.4h0M1667.4 240.4h0M1667.6 232.4h0M1667.9 222.5h0M1668.1 216.6h0M1668.4 210.6h0M1668.6 205.7h0M1668.9 198.3h0M1669.2 191.5h0M1669.4 184.7h0M1669.7 177.6h0M1669.9 171.0h0M1670.2 165.7h0M1670.5 161.8h0M1670.7 155.7h0M1671.0 152.6h0M1671.2 147.5h0M1671.5 144.3h0M1671.7 141.1h0M1672.0 136.9h0M1672.3 135.9h0M1672.5 133.9h0M1672.8 133.5h0M1673.0 132.4h0M1673.3 129.4h0M1673.5 128.8h0M1673.8 128.3h0M1674.1 127.9h0M1674.3 127.6h0M1674.6 127.1h0M1674.8 128.7h0M1675.1 131.2h0M1675.3 132.1h0M1675.6 133.7h0M1675.9 135.1h0M1676.1 137.4h0M1676.4 141.6h0M1676.6 145.7h0M1676.9 149.9h0M1677.2 155.0h0M1677.4 158.3h0M1677.7 164.3h0M1677.9 169.4h0M1678.2 174.5h0M1678.4 180.0h0M1678.7 185.4h0M1679.0 189.7h0M1679.2 195.7h0M1679.5 200.3h0M1679.7 203.5h0M1680.0 209.2h0M1680.2 212.1h0M1680.5 214.9h0M1680.8 218.0h0M1681.0 221.8h0M1681.3 225.0h0M1681.5 227.7h0M1681.8 231.5h0M1682.0 232.3h0M1682.3 228.3h0M1682.6 222.1h0M1682.8 217.7h0M1683.1 211.9h0M1683.3 209.2h0M1683.6 204.8h0M1683.9 202.2h0M1684.1 198.4h0M1684.4 193.3h0M1684.6 189.1h0M1684.9 183.2h0M1685.1 177.6h0M1685.4 173.6h0M1685.7 167.6h0M1685.9 161.7h0M1686.2 157.2h0M1686.4 155.2h0M1686.7 152.4h0M1686.9 151.3h0M1687.2 146.2h0M1687.5 145.1h0M1687.7 144.2h0M1688.0 141.9h0M1688.2 140.9h0M1688.5 139.8h0M1688.7 138.5h0M1689.0 138.8h0M1689.3 137.4h0M1689.5 136.1h0M1689.8 135.5h0M1690.0 136.0h0M1690.3 134.4h0M1690.6 134.3h0M1690.8 135.0h0M1691.1 134.8h0M1691.3 137.5h0M1691.6 138.6h0M1691.8 139.5h0M1692.1 139.8h0M1692.4 140.4h0M1692.6 141.9h0M1692.9 141.6h0M1693.1 143.4h0M1693.4 145.4h0M1693.6 147.1h0M1693.9 149.9h0M1694.2 151.5h0M1694.4 154.9h0M1694.7 156.5h0M1694.9 157.3h0M1695.2 158.3h0M1695.4 162.4h0M1695.7 163.0h0M1696.0 164.8h0M1696.2 163.3h0M1696.5 161.9h0M1696.7 162.3h0M1697.0 160.0h0M1697.3 159.6h0M1697.5 158.8h0M1697.8 157.0h0M1698.0 155.6h0M1698.3 154.2h0M1698.5 152.7h0M1698.8 152.4h0M1699.1 150.1h0M1699.3 149.6h0M1699.6 147.7h0M1699.8 147.3h0M1700.1 146.9h0M1700.3 146.0h0M1700.6 146.4h0M1700.9 144.9h0M1701.1 145.6h0M1701.4 148.6h0M1701.6 151.0h0M1701.9 152.4h0M1702.1 155.2h0M1702.4 158.3h0M1702.7 161.2h0M1702.9 163.9h0M1703.2 170.6h0M1703.4 181.1h0M1703.7 189.6h0M1704.0 198.8h0M1704.2 208.6h0M1704.5 217.4h0M1704.7 226.6h0M1705.0 234.9h0M1705.2 244.3h0M1705.5 254.0h0M1705.8 263.4h0M1706.0 272.9h0M1706.3 281.4h0M1706.5 293.7h0M1706.8 299.1h0M1707.0 302.8h0M1707.3 308.4h0M1707.6 311.7h0M1707.8 315.4h0M1708.1 319.5h0M1708.3 318.7h0M1708.6 319.7h0M1708.8 321.0h0M1709.1 322.7h0M1709.4 326.8h0M1709.6 326.6h0M1709.9 328.3h0M1710.1 331.0h0M1710.4 333.0h0M1710.6 334.5h0M1710.9 334.0h0M1711.2 336.2h0M1711.4 335.6h0M1711.7 335.4h0M1711.9 336.2h0M1712.2 337.9h0M1712.5 338.9h0M1712.7 340.1h0M1713.0 342.1h0M1713.2 344.7h0M1713.5 345.3h0M1713.7 344.9h0M1714.0 345.3h0M1714.3 346.5h0M1714.5 345.4h0M1714.8 345.1h0M1715.0 345.8h0M1715.3 346.1h0M1715.5 346.8h0M1715.8 348.7h0M1716.1 349.7h0M1716.3 351.9h0M1716.6 354.0h0M1716.8 355.0h0M1717.1 355.7h0M1717.3 357.0h0M1717.6 358.8h0M1717.9 358.3h0M1718.1 359.1h0M1718.4 361.0h0M1718.6 361.5h0M1718.9 363.0h0M1719.2 366.0h0M1719.4 368.6h0M1719.7 371.0h0M1719.9 373.6h0M1720.2 376.7h0M1720.4 378.2h0M1720.7 379.2h0M1721.0 380.9h0M1721.2 383.7h0M1721.5 384.4h0M1721.7 386.8h0M1722.0 389.0h0M1722.2 392.0h0M1722.5 396.1h0M1722.8 399.1h0M1723.0 403.1h0M1723.3 407.2h0M1723.5 409.4h0M1723.8 413.1h0M1724.0 414.9h0M1724.3 417.6h0M1724.6 420.2h0M1724.8 423.4h0M1725.1 428.8h0M1725.3 433.4h0M1725.6 437.4h0M1725.9 442.0h0M1726.1 446.5h0M1726.4 451.3h0M1726.6 455.8h0M1726.9 459.6h0M1727.1 461.8h0M1727.4 463.4h0M1727.7 465.3h0M1727.9 467.0h0M1728.2 468.7h0M1728.4 473.1h0M1728.7 474.2h0M1728.9 477.0h0M1729.2 481.3h0M1729.5 483.5h0M1729.7 486.0h0M1730.0 487.5h0M1730.2 484.5h0M1730.5 480.9h0M1730.7 478.0h0M1731.0 472.8h0M1731.3 468.9h0M1731.5 465.8h0M1731.8 462.3h0M1732.0 458.6h0M1732.3 453.5h0M1732.6 450.2h0M1732.8 444.1h0M1733.1 440.5h0M1733.3 434.0h0M1733.6 428.4h0M1733.8 422.2h0M1734.1 416.1h0M1734.4 409.6h0M1734.6 403.7h0M1734.9 397.0h0M1735.1 391.3h0M1735.4 385.2h0M1735.6 379.9h0M1735.9 373.8h0M1736.2 367.5h0M1736.4 359.9h0M1736.7 353.2h0M1736.9 345.8h0M1737.2 340.0h0M1737.4 331.2h0M1737.7 327.1h0M1738.0 319.7h0M1738.2 314.5h0M1738.5 310.4h0M1738.7 305.6h0M1739.0 300.9h0M1739.3 296.4h0M1739.5 291.3h0M1739.8 285.1h0M1740.0 280.8h0M1740.3 274.6h0M1740.5 271.5h0M1740.8 267.0h0M1741.1 262.4h0M1741.3 260.0h0M1741.6 256.9h0M1741.8 251.9h0M1742.1 249.8h0M1742.3 245.9h0M1742.6 242.3h0M1742.9 237.0h0M1743.1 234.1h0M1743.4 229.9h0M1743.6 225.0h0M1743.9 220.1h0M1744.1 217.7h0M1744.4 216.7h0M1744.7 215.3h0M1744.9 213.7h0M1745.2 212.8h0M1745.4 211.5h0M1745.7 211.0h0M1745.9 210.4h0M1746.2 208.2h0M1746.5 205.2h0M1746.7 204.1h0M1747.0 204.0h0M1747.2 203.3h0M1747.5 203.4h0M1747.8 203.0h0M1748.0 202.7h0M1748.3 203.6h0M1748.5 204.5h0M1748.8 203.6h0M1749.0 205.0h0M1749.3 206.5h0M1749.6 210.0h0M1749.8 213.3h0M1750.1 216.2h0M1750.3 220.0h0M1750.6 223.2h0M1750.8 227.3h0M1751.1 233.8h0M1751.4 241.4h0M1751.6 251.1h0M1751.9 261.5h0M1752.1 268.8h0M1752.4 276.8h0M1752.6 286.1h0M1752.9 295.6h0M1753.2 305.9h0M1753.4 316.0h0M1753.7 326.2h0M1753.9 336.9h0M1754.2 344.4h0M1754.5 352.3h0M1754.7 359.9h0M1755.0 365.7h0M1755.2 373.1h0M1755.5 380.7h0M1755.7 386.2h0M1756.0 393.9h0M1756.3 388.1h0M1756.5 383.3h0M1756.8 379.2h0M1757.0 376.2h0M1757.3 370.2h0M1757.5 367.1h0M1757.8 363.0h0M1758.1 359.3h0M1758.3 351.5h0M1758.6 343.9h0M1758.8 336.2h0M1759.1 327.6h0M1759.3 319.5h0M1759.6 311.4h0M1759.9 303.0h0M1760.1 295.0h0M1760.4 287.0h0M1760.6 280.5h0M1760.9 273.2h0M1761.2 265.9h0M1761.4 258.3h0M1761.7 250.9h0M1761.9 242.7h0M1762.2 237.2h0M1762.4 229.5h0M1762.7 223.3h0M1763.0 214.1h0M1763.2 207.5h0M1763.5 202.2h0M1763.7 195.8h0M1764.0 189.7h0M1764.2 186.5h0M1764.5 183.6h0M1764.8 178.9h0M1765.0 178.4h0M1765.3 172.8h0M1765.5 168.8h0M1765.8 165.3h0M1766.0 161.0h0M1766.3 160.0h0M1766.6 159.2h0M1766.8 158.6h0M1767.1 158.0h0M1767.3 158.0h0M1767.6 157.7h0M1767.9 156.7h0M1768.1 157.1h0M1768.4 157.6h0M1768.6 159.3h0M1768.9 158.7h0M1769.1 159.4h0M1769.4 160.6h0M1769.7 162.4h0M1769.9 163.1h0M1770.2 166.6h0M1770.4 172.0h0M1770.7 176.7h0M1770.9 181.4h0M1771.2 184.9h0M1771.5 188.5h0M1771.7 192.0h0M1772.0 194.4h0M1772.2 197.2h0M1772.5 199.1h0M1772.7 202.0h0M1773.0 204.3h0M1773.3 206.2h0M1773.5 209.6h0M1773.8 213.3h0M1774.0 216.2h0M1774.3 218.7h0M1774.6 222.3h0M1774.8 223.0h0M1775.1 226.5h0M1775.3 227.2h0M1775.6 228.4h0M1775.8 230.8h0M1776.1 233.7h0M1776.4 234.3h0M1776.6 237.7h0M1776.9 240.5h0M1777.1 243.0h0M1777.4 245.6h0M1777.6 248.2h0M1777.9 250.4h0M1778.2 253.2h0M1778.4 252.8h0M1778.7 256.5h0M1778.9 259.0h0M1779.2 259.7h0M1779.4 263.7h0M1779.7 266.8h0M1780.0 269.0h0M1780.2 272.6h0M1780.5 275.2h0M1780.7 277.7h0M1781.0 280.8h0M1781.3 283.3h0M1781.5 286.6h0M1781.8 287.9h0M1782.0 291.0h0M1782.3 293.6h0M1782.5 296.4h0M1782.8 298.8h0M1783.1 300.9h0M1783.3 296.5h0M1783.6 292.9h0M1783.8 290.7h0M1784.1 286.5h0M1784.3 281.0h0M1784.6 276.6h0M1784.9 273.4h0M1785.1 267.4h0M1785.4 262.3h0M1785.6 257.1h0M1785.9 251.0h0M1786.1 246.8h0M1786.4 241.0h0M1786.7 237.1h0M1786.9 233.0h0M1787.2 229.8h0M1787.4 225.8h0M1787.7 222.6h0M1787.9 218.0h0M1788.2 215.3h0M1788.5 210.2h0M1788.7 207.2h0M1789.0 204.0h0M1789.2 202.2h0M1789.5 201.5h0M1789.8 200.9h0M1790.0 200.8h0M1790.3 199.7h0M1790.5 198.3h0M1790.8 196.7h0M1791.0 195.0h0M1791.3 192.2h0M1791.6 190.6h0M1791.8 188.9h0M1792.1 188.5h0M1792.3 189.3h0M1792.6 190.8h0M1792.8 191.2h0M1793.1 194.4h0M1793.4 194.5h0M1793.6 195.5h0M1793.9 197.0h0M1794.1 197.8h0M1794.4 197.9h0M1794.6 199.3h0M1794.9 198.5h0M1795.2 199.2h0M1795.4 199.7h0M1795.7 202.6h0M1795.9 203.1h0M1796.2 204.7h0M1796.5 205.4h0M1796.7 207.4h0M1797.0 208.7h0M1797.2 210.1h0M1797.5 211.0h0M1797.7 211.6h0M1798.0 210.9h0M1798.3 209.6h0M1798.5 208.7h0M1798.8 206.9h0M1799.0 205.9h0M1799.3 205.3h0M1799.5 204.0h0M1799.8 202.7h0M1800.1 202.9h0M1800.3 198.9h0M1800.6 198.1h0M1800.8 196.3h0M1801.1 193.9h0M1801.3 191.9h0M1801.6 189.9h0M1801.9 189.3h0M1802.1 188.2h0M1802.4 191.3h0M1802.6 194.0h0M1802.9 197.2h0M1803.2 199.8h0M1803.4 202.6h0M1803.7 205.0h0M1803.9 205.7h0M1804.2 207.8h0M1804.4 210.7h0M1804.7 211.8h0M1805.0 212.5h0M1805.2 216.0h0M1805.5 217.8h0M1805.7 220.2h0M1806.0 222.8h0M1806.2 225.3h0M1806.5 226.9h0M1806.8 229.0h0M1807.0 229.9h0M1807.3 229.0h0M1807.5 227.6h0M1807.8 225.7h0M1808.0 224.5h0M1808.3 226.0h0M1808.6 224.1h0M1808.8 223.9h0M1809.1 225.2h0M1809.3 225.1h0M1809.6 224.0h0M1809.9 224.3h0M1810.1 222.1h0M1810.4 220.7h0M1810.6 218.5h0M1810.9 218.9h0M1811.1 216.4h0M1811.4 215.7h0M1811.7 213.5h0M1811.9 214.2h0M1812.2 212.4h0M1812.4 212.6h0M1812.7 212.8h0M1812.9 212.3h0M1813.2 211.0h0M1813.5 208.3h0M1813.7 205.7h0M1814.0 204.8h0M1814.2 202.6h0M1814.5 201.8h0M1814.7 200.5h0M1815.0 200.4h0M1815.3 199.0h0M1815.5 197.8h0M1815.8 197.4h0M1816.0 195.8h0M1816.3 193.5h0M1816.6 190.9h0M1816.8 188.4h0M1817.1 185.5h0M1817.3 183.2h0M1817.6 179.8h0M1817.8 178.3h0M1818.1 177.0h0M1818.4 174.6h0M1818.6 172.9h0M1818.9 173.0h0M1819.1 170.1h0M1819.4 170.0h0M1819.6 167.1h0M1819.9 165.4h0M1820.2 163.5h0M1820.4 160.5h0M1820.7 158.5h0M1820.9 157.3h0M1821.2 155.8h0M1821.4 155.2h0M1821.7 153.5h0M1822.0 152.4h0M1822.2 152.8h0M1822.5 152.0h0M1822.7 151.4h0M1823.0 151.3h0M1823.2 149.9h0M1823.5 148.3h0M1823.8 148.7h0M1824.0 147.3h0M1824.3 145.7h0M1824.5 146.5h0M1824.8 147.7h0M1825.1 147.5h0M1825.3 148.3h0M1825.6 149.8h0M1825.8 150.0h0M1826.1 150.6h0M1826.3 151.2h0M1826.6 150.5h0M1826.9 152.3h0M1827.1 150.0h0M1827.4 151.2h0M1827.6 153.6h0M1827.9 154.4h0M1828.1 157.2h0M1828.4 158.7h0M1828.7 161.2h0M1828.9 162.8h0M1829.2 163.8h0M1829.4 164.1h0M1829.7 166.2h0M1829.9 167.8h0M1830.2 168.9h0M1830.5 169.7h0M1830.7 172.6h0M1831.0 173.9h0M1831.2 175.5h0M1831.5 178.1h0M1831.8 179.9h0M1832.0 180.9h0M1832.3 182.4h0M1832.5 184.1h0M1832.8 185.9h0M1833.0 184.1h0M1833.3 185.0h0M1833.6 187.1h0M1833.8 188.6h0M1834.1 190.8h0M1834.3 190.8h0M1834.6 193.4h0M1834.8 194.9h0M1835.1 196.5h0M1835.4 196.6h0M1835.6 197.2h0M1835.9 198.0h0M1836.1 198.1h0M1836.4 198.5h0M1836.6 199.0h0M1836.9 200.4h0M1837.2 200.9h0M1837.4 202.2h0M1837.7 204.2h0M1837.9 205.2h0M1838.2 206.5h0M1838.5 206.1h0M1838.7 207.5h0M1839.0 207.5h0M1839.2 207.0h0M1839.5 206.9h0M1839.7 206.7h0M1840.0 208.1h0M1840.3 207.8h0M1840.5 208.2h0M1840.8 209.2h0M1841.0 210.0h0M1841.3 211.7h0M1841.5 212.5h0M1841.8 212.4h0M1842.1 212.7h0M1842.3 213.4h0M1842.6 212.7h0M1842.8 214.3h0M1843.1 213.8h0M1843.3 213.9h0M1843.6 215.2h0M1843.9 215.0h0M1844.1 217.7h0M1844.4 218.2h0M1844.6 220.2h0M1844.9 221.0h0M1845.2 220.5h0M1845.4 222.1h0M1845.7 221.1h0M1845.9 221.2h0M1846.2 222.8h0M1846.4 224.0h0M1846.7 224.7h0M1847.0 227.1h0M1847.2 228.7h0M1847.5 230.6h0M1847.7 232.9h0M1848.0 235.3h0M1848.2 235.6h0M1848.5 238.0h0M1848.8 238.5h0M1849.0 239.8h0M1849.3 242.3h0M1849.5 243.6h0M1849.8 245.2h0M1850.0 248.8h0M1850.3 249.5h0M1850.6 253.2h0M1850.8 256.4h0M1851.1 257.6h0M1851.3 261.0h0M1851.6 262.5h0M1851.9 265.3h0M1852.1 266.5h0M1852.4 267.8h0M1852.6 268.3h0M1852.9 271.0h0M1853.1 274.4h0M1853.4 276.4h0M1853.7 278.2h0M1853.9 281.3h0M1854.2 283.0h0M1854.4 286.5h0M1854.7 287.9h0M1854.9 289.5h0M1855.2 291.4h0M1855.5 294.0h0M1855.7 294.2h0M1856.0 295.3h0M1856.2 300.4h0M1856.5 301.2h0M1856.7 303.9h0M1857.0 306.2h0M1857.3 310.3h0M1857.5 312.5h0M1857.8 314.8h0M1858.0 316.6h0M1858.3 318.5h0M1858.6 319.8h0M1858.8 321.0h0M1859.1 323.4h0M1859.3 325.0h0M1859.6 326.8h0M1859.8 329.9h0M1860.1 331.3h0M1860.4 335.2h0M1860.6 337.3h0M1860.9 339.2h0M1861.1 342.3h0M1861.4 344.5h0M1861.6 345.2h0M1861.9 346.0h0M1862.2 346.4h0M1862.4 347.4h0M1862.7 349.8h0M1862.9 351.6h0M1863.2 354.4h0M1863.4 357.6h0M1863.7 359.3h0M1864.0 361.1h0M1864.2 362.1h0M1864.5 361.4h0M1864.7 363.1h0M1865.0 362.9h0M1865.2 362.6h0M1865.5 363.4h0M1865.8 364.0h0M1866.0 365.4h0M1866.3 366.0h0M1866.5 368.3h0M1866.8 369.0h0M1867.1 369.6h0M1867.3 369.9h0M1867.6 367.9h0M1867.8 366.7h0M1868.1 364.6h0M1868.3 364.4h0M1868.6 362.3h0M1868.9 361.5h0M1869.1 360.1h0M1869.4 359.9h0M1869.6 357.5h0M1869.9 355.5h0M1870.1 352.4h0M1870.4 350.2h0M1870.7 347.7h0M1870.9 343.5h0M1871.2 340.2h0M1871.4 336.7h0M1871.7 333.9h0M1871.9 330.0h0M1872.2 325.4h0M1872.5 324.4h0M1872.7 320.1h0M1873.0 317.8h0M1873.2 316.4h0M1873.5 314.6h0M1873.8 310.3h0M1874.0 306.8h0M1874.3 303.9h0M1874.5 300.6h0M1874.8 297.7h0M1875.0 293.6h0M1875.3 290.6h0M1875.6 288.1h0M1875.8 286.2h0M1876.1 284.4h0M1876.3 281.6h0M1876.6 280.0h0M1876.8 278.2h0M1877.1 276.4h0M1877.4 272.5h0M1877.6 267.7h0M1877.9 265.5h0M1878.1 263.5h0M1878.4 261.0h0M1878.6 260.2h0M1878.9 257.9h0M1879.2 257.2h0M1879.4 256.0h0M1879.7 254.3h0M1879.9 252.9h0M1880.2 251.3h0M1880.5 248.9h0M1880.7 247.4h0M1881.0 244.7h0M1881.2 244.1h0M1881.5 242.8h0M1881.7 244.0h0M1882.0 243.3h0M1882.3 244.0h0M1882.5 243.1h0M1882.8 243.6h0M1883.0 244.3h0M1883.3 244.1h0M1883.5 243.7h0M1883.8 243.4h0M1884.1 243.0h0M1884.3 245.1h0M1884.6 245.9h0M1884.8 248.9h0M1885.1 248.6h0M1885.3 253.5h0M1885.6 256.0h0M1885.9 258.8h0M1886.1 263.2h0M1886.4 268.6h0M1886.6 274.1h0M1886.9 278.2h0M1887.2 283.1h0M1887.4 288.2h0M1887.7 292.3h0M1887.9 297.1h0M1888.2 301.0h0M1888.4 303.7h0M1888.7 306.4h0M1889.0 309.5h0M1889.2 313.6h0M1889.5 316.8h0M1889.7 319.5h0M1890.0 322.0h0M1890.2 323.8h0M1890.5 325.6h0M1890.8 327.1h0M1891.0 328.2h0M1891.3 329.4h0M1891.5 331.6h0M1891.8 335.2h0M1892.0 335.4h0M1892.3 337.7h0M1892.6 340.5h0M1892.8 341.6h0M1893.1 342.6h0M1893.3 341.4h0M1893.6 340.2h0M1893.9 339.2h0M1894.1 337.6h0M1894.4 335.2h0M1894.6 334.9h0M1894.9 333.9h0M1895.1 334.5h0M1895.4 334.3h0M1895.7 335.4h0M1895.9 335.9h0M1896.2 334.2h0M1896.4 333.9h0M1896.7 333.5h0M1896.9 331.6h0M1897.2 333.3h0M1897.5 337.6h0M1897.7 341.0h0M1898.0 343.4h0M1898.2 348.5h0M1898.5 352.4h0M1898.7 356.5h0M1899.0 361.1h0M1899.3 366.8h0M1899.5 373.2h0M1899.8 380.9h0M1900.0 386.4h0M1900.3 391.8h0M1900.5 397.9h0M1900.8 404.2h0M1901.1 410.1h0M1901.3 417.0h0M1901.6 420.9h0M1901.8 427.4h0M1902.1 432.0h0M1902.4 438.5h0M1902.6 444.4h0M1902.9 448.3h0M1903.1 449.3h0M1903.4 447.0h0M1903.6 446.7h0M1903.9 444.0h0M1904.2 443.1h0M1904.4 442.3h0M1904.7 440.5h0M1904.9 440.4h0M1905.2 438.5h0M1905.4 433.8h0M1905.7 430.5h0M1906.0 426.7h0M1906.2 421.4h0M1906.5 417.7h0M1906.7 414.0h0M1907.0 410.4h0M1907.2 404.5h0M1907.5 401.3h0M1907.8 397.9h0M1908.0 394.2h0M1908.3 390.8h0M1908.5 387.7h0M1908.8 384.0h0M1909.1 379.9h0M1909.3 376.1h0M1909.6 371.7h0M1909.8 366.0h0M1910.1 363.0h0M1910.3 358.6h0M1910.6 354.9h0M1910.9 350.0h0M1911.1 349.0h0M1911.4 344.5h0M1911.6 340.3h0M1911.9 338.4h0M1912.1 334.4h0M1912.4 329.7h0M1912.7 326.4h0M1912.9 321.6h0M1913.2 317.1h0M1913.4 314.3h0M1913.7 312.1h0M1913.9 310.4h0M1914.2 307.0h0M1914.5 306.0h0M1914.7 303.3h0M1915.0 300.7h0M1915.2 301.0h0M1915.5 298.6h0M1915.8 297.7h0M1916.0 295.0h0M1916.3 294.4h0M362.0 397.0h0"/>
<text x="584.80" y="47.3" font-size="26" textLength="247.20" lengthAdjust="spacingAndGlyphs">300234064506420:</text>
<text x="841.80" y="47.3" font-size="26" textLength="113.80" lengthAdjust="spacingAndGlyphs">Removed</text>
<text x="965.80" y="47.3" font-size="26" textLength="33.20" lengthAdjust="spacingAndGlyphs">BP</text>
<text x="1011.40" y="47.3" font-size="26" textLength="78.80" lengthAdjust="spacingAndGlyphs">Values</text>
<text x="1102.00" y="47.3" font-size="26" textLength="80.40" lengthAdjust="spacingAndGlyphs">(RED);</text>
<text x="1192.60" y="47.3" font-size="26" textLength="77.00" lengthAdjust="spacingAndGlyphs">Level2</text>
<text x="1281.80" y="47.3" font-size="26" textLength="35.20" lengthAdjust="spacingAndGlyphs">BP</text>
<text x="1328.60" y="47.3" font-size="26" textLength="85.60" lengthAdjust="spacingAndGlyphs">(BLUE)</text>
<text x="230.70" y="770.4" font-size="21.5" textLength="41.40" lengthAdjust="spacingAndGlyphs">250</text>
<text x="541.70" y="770.4" font-size="21.5" textLength="39.40" lengthAdjust="spacingAndGlyphs">300</text>
<text x="850.70" y="770.4" font-size="21.5" textLength="38.40" lengthAdjust="spacingAndGlyphs">350</text>
<text x="1159.70" y="770.4" font-size="21.5" textLength="38.40" lengthAdjust="spacingAndGlyphs">400</text>
<text x="1468.70" y="770.4" font-size="21.5" textLength="38.40" lengthAdjust="spacingAndGlyphs">450</text>
<text x="1776.90" y="770.4" font-size="21.5" textLength="39.40" lengthAdjust="spacingAndGlyphs">500</text>
<text x="28.60" y="225.6" font-size="21.5" textLength="49.00" lengthAdjust="spacingAndGlyphs">1020</text>
<text x="28.90" y="402.6" font-size="21.5" textLength="49.15" lengthAdjust="spacingAndGlyphs">1000</text>
<text x="38.00" y="579.6" font-size="21.5" textLength="39.50" lengthAdjust="spacingAndGlyphs">980</text>
<text x="938.20" y="795.6" font-size="20.5" textLength="36.80" lengthAdjust="spacingAndGlyphs">Day</text>
<text x="985.00" y="795.6" font-size="20.5" textLength="20.20" lengthAdjust="spacingAndGlyphs">Of</text>
<text x="1015.20" y="795.6" font-size="20.5" textLength="44.60" lengthAdjust="spacingAndGlyphs">Year</text>
<text transform="translate(10.8,411.8) rotate(-90)" x="0" y="0" font-size="20.5" textLength="26.5" lengthAdjust="spacingAndGlyphs">BP</text>
</svg>
</body></html>
